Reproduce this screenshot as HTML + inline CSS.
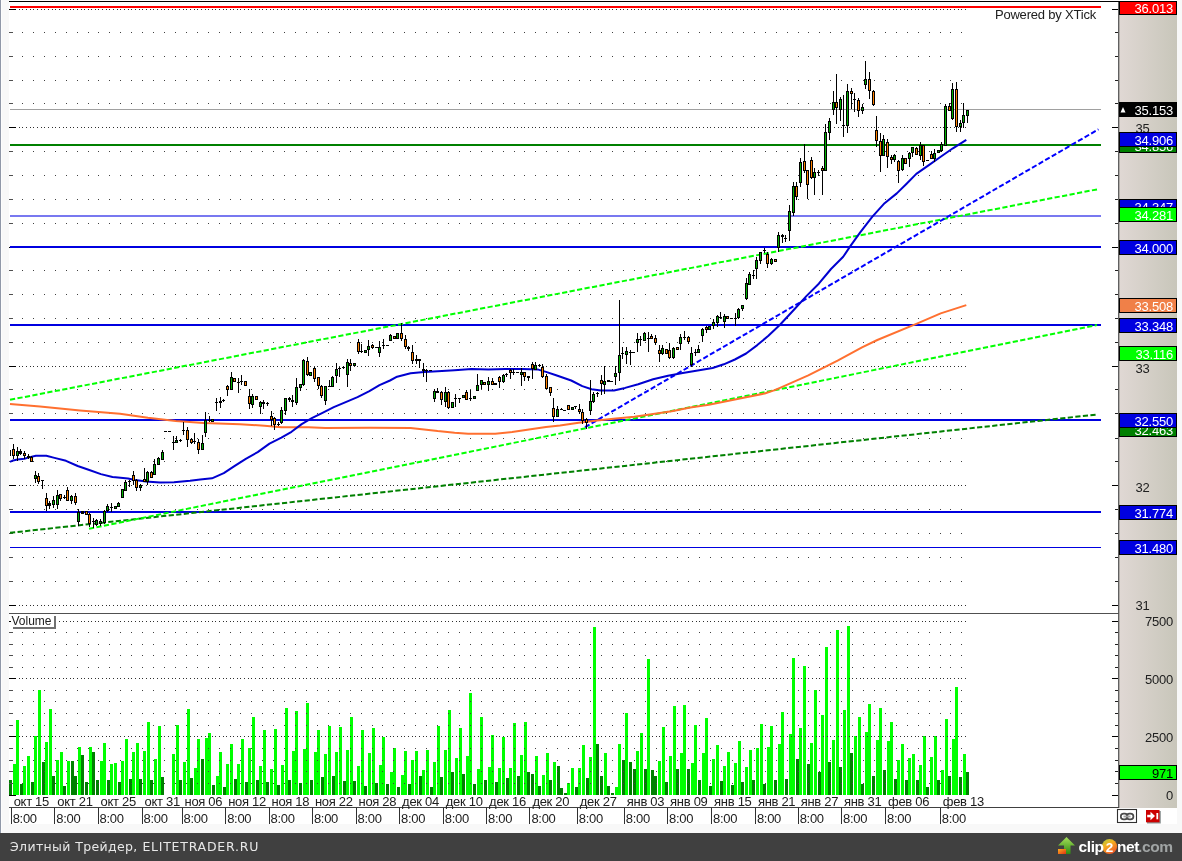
<!DOCTYPE html>
<html><head><meta charset="utf-8"><title>XTick chart</title>
<style>html,body{margin:0;padding:0;background:#f8f8f8;}body{width:1182px;height:861px;overflow:hidden;position:relative;}</style>
</head><body>
<svg width="1182" height="861" viewBox="0 0 1182 861" style="position:absolute;left:0;top:0">
<defs><linearGradient id="ax" x1="0" x2="1" y1="0" y2="0"><stop offset="0" stop-color="#e0d8d4"/><stop offset="1" stop-color="#c8c6ba"/></linearGradient><clipPath id="cp"><rect x="10" y="2" width="1100" height="611"/></clipPath><clipPath id="cv"><rect x="10" y="614" width="1100" height="181"/></clipPath></defs>
<rect x="0" y="0" width="1182" height="861" fill="#f8f8f8"/>
<rect x="0" y="0" width="1" height="833" fill="#9098a8"/>
<rect x="1" y="0" width="1" height="833" fill="#fdfdfd"/>
<rect x="9" y="0" width="1168" height="824" fill="#ffffff"/>
<g shape-rendering="crispEdges">
<rect x="1119" y="1" width="58" height="807" fill="url(#ax)"/>
<rect x="1118" y="1" width="1" height="807" fill="#606060"/>
<rect x="1119" y="1" width="1" height="807" fill="#b0aca8"/>
<rect x="9" y="1" width="1110" height="1" fill="#000"/>
<rect x="9" y="613" width="1110" height="1" fill="#505050"/>
<rect x="9" y="807" width="1110" height="1" fill="#404040"/>
<line x1="11.077" y1="9.5" x2="966" y2="9.5" stroke="#303030" stroke-width="1" stroke-dasharray="1 2.9 1 2.9 1 2.123"/>
<rect x="9" y="9" width="7" height="1" fill="#000"/>
<rect x="1112" y="9" width="6" height="1" fill="#000"/>
<line x1="22" y1="32.5" x2="968" y2="32.5" stroke="#404040" stroke-width="1" stroke-dasharray="1 9.923"/>
<rect x="9" y="32" width="4" height="1" fill="#505050"/>
<rect x="1115" y="32" width="3" height="1" fill="#202020"/>
<line x1="22" y1="56.5" x2="968" y2="56.5" stroke="#404040" stroke-width="1" stroke-dasharray="1 9.923"/>
<rect x="9" y="56" width="4" height="1" fill="#505050"/>
<rect x="1115" y="56" width="3" height="1" fill="#202020"/>
<line x1="22" y1="80.5" x2="968" y2="80.5" stroke="#404040" stroke-width="1" stroke-dasharray="1 9.923"/>
<rect x="9" y="80" width="4" height="1" fill="#505050"/>
<rect x="1115" y="80" width="3" height="1" fill="#202020"/>
<line x1="22" y1="103.5" x2="968" y2="103.5" stroke="#404040" stroke-width="1" stroke-dasharray="1 9.923"/>
<rect x="9" y="103" width="4" height="1" fill="#505050"/>
<rect x="1115" y="103" width="3" height="1" fill="#202020"/>
<line x1="11.077" y1="127.5" x2="966" y2="127.5" stroke="#303030" stroke-width="1" stroke-dasharray="1 2.9 1 2.9 1 2.123"/>
<rect x="9" y="127" width="7" height="1" fill="#000"/>
<rect x="1112" y="127" width="6" height="1" fill="#000"/>
<line x1="22" y1="151.5" x2="968" y2="151.5" stroke="#404040" stroke-width="1" stroke-dasharray="1 9.923"/>
<rect x="9" y="151" width="4" height="1" fill="#505050"/>
<rect x="1115" y="151" width="3" height="1" fill="#202020"/>
<line x1="22" y1="175.5" x2="968" y2="175.5" stroke="#404040" stroke-width="1" stroke-dasharray="1 9.923"/>
<rect x="9" y="175" width="4" height="1" fill="#505050"/>
<rect x="1115" y="175" width="3" height="1" fill="#202020"/>
<line x1="22" y1="199.5" x2="968" y2="199.5" stroke="#404040" stroke-width="1" stroke-dasharray="1 9.923"/>
<rect x="9" y="199" width="4" height="1" fill="#505050"/>
<rect x="1115" y="199" width="3" height="1" fill="#202020"/>
<line x1="22" y1="223.5" x2="968" y2="223.5" stroke="#404040" stroke-width="1" stroke-dasharray="1 9.923"/>
<rect x="9" y="223" width="4" height="1" fill="#505050"/>
<rect x="1115" y="223" width="3" height="1" fill="#202020"/>
<line x1="11.077" y1="247.5" x2="966" y2="247.5" stroke="#303030" stroke-width="1" stroke-dasharray="1 2.9 1 2.9 1 2.123"/>
<rect x="9" y="247" width="7" height="1" fill="#000"/>
<rect x="1112" y="247" width="6" height="1" fill="#000"/>
<line x1="22" y1="270.5" x2="968" y2="270.5" stroke="#404040" stroke-width="1" stroke-dasharray="1 9.923"/>
<rect x="9" y="270" width="4" height="1" fill="#505050"/>
<rect x="1115" y="270" width="3" height="1" fill="#202020"/>
<line x1="22" y1="294.5" x2="968" y2="294.5" stroke="#404040" stroke-width="1" stroke-dasharray="1 9.923"/>
<rect x="9" y="294" width="4" height="1" fill="#505050"/>
<rect x="1115" y="294" width="3" height="1" fill="#202020"/>
<line x1="22" y1="318.5" x2="968" y2="318.5" stroke="#404040" stroke-width="1" stroke-dasharray="1 9.923"/>
<rect x="9" y="318" width="4" height="1" fill="#505050"/>
<rect x="1115" y="318" width="3" height="1" fill="#202020"/>
<line x1="22" y1="342.5" x2="968" y2="342.5" stroke="#404040" stroke-width="1" stroke-dasharray="1 9.923"/>
<rect x="9" y="342" width="4" height="1" fill="#505050"/>
<rect x="1115" y="342" width="3" height="1" fill="#202020"/>
<line x1="11.077" y1="366.5" x2="966" y2="366.5" stroke="#303030" stroke-width="1" stroke-dasharray="1 2.9 1 2.9 1 2.123"/>
<rect x="9" y="366" width="7" height="1" fill="#000"/>
<rect x="1112" y="366" width="6" height="1" fill="#000"/>
<line x1="22" y1="389.5" x2="968" y2="389.5" stroke="#404040" stroke-width="1" stroke-dasharray="1 9.923"/>
<rect x="9" y="389" width="4" height="1" fill="#505050"/>
<rect x="1115" y="389" width="3" height="1" fill="#202020"/>
<line x1="22" y1="413.5" x2="968" y2="413.5" stroke="#404040" stroke-width="1" stroke-dasharray="1 9.923"/>
<rect x="9" y="413" width="4" height="1" fill="#505050"/>
<rect x="1115" y="413" width="3" height="1" fill="#202020"/>
<line x1="22" y1="438.5" x2="968" y2="438.5" stroke="#404040" stroke-width="1" stroke-dasharray="1 9.923"/>
<rect x="9" y="438" width="4" height="1" fill="#505050"/>
<rect x="1115" y="438" width="3" height="1" fill="#202020"/>
<line x1="22" y1="461.5" x2="968" y2="461.5" stroke="#404040" stroke-width="1" stroke-dasharray="1 9.923"/>
<rect x="9" y="461" width="4" height="1" fill="#505050"/>
<rect x="1115" y="461" width="3" height="1" fill="#202020"/>
<line x1="11.077" y1="485.5" x2="966" y2="485.5" stroke="#303030" stroke-width="1" stroke-dasharray="1 2.9 1 2.9 1 2.123"/>
<rect x="9" y="485" width="7" height="1" fill="#000"/>
<rect x="1112" y="485" width="6" height="1" fill="#000"/>
<line x1="22" y1="509.5" x2="968" y2="509.5" stroke="#404040" stroke-width="1" stroke-dasharray="1 9.923"/>
<rect x="9" y="509" width="4" height="1" fill="#505050"/>
<rect x="1115" y="509" width="3" height="1" fill="#202020"/>
<line x1="22" y1="533.5" x2="968" y2="533.5" stroke="#404040" stroke-width="1" stroke-dasharray="1 9.923"/>
<rect x="9" y="533" width="4" height="1" fill="#505050"/>
<rect x="1115" y="533" width="3" height="1" fill="#202020"/>
<line x1="22" y1="557.5" x2="968" y2="557.5" stroke="#404040" stroke-width="1" stroke-dasharray="1 9.923"/>
<rect x="9" y="557" width="4" height="1" fill="#505050"/>
<rect x="1115" y="557" width="3" height="1" fill="#202020"/>
<line x1="22" y1="581.5" x2="968" y2="581.5" stroke="#404040" stroke-width="1" stroke-dasharray="1 9.923"/>
<rect x="9" y="581" width="4" height="1" fill="#505050"/>
<rect x="1115" y="581" width="3" height="1" fill="#202020"/>
<line x1="11.077" y1="605.5" x2="966" y2="605.5" stroke="#303030" stroke-width="1" stroke-dasharray="1 2.9 1 2.9 1 2.123"/>
<rect x="9" y="605" width="7" height="1" fill="#000"/>
<rect x="1112" y="605" width="6" height="1" fill="#000"/>
<rect x="10" y="6" width="1091" height="2" fill="#ff0000"/>
<rect x="10" y="109" width="1091" height="1" fill="#a0a0a0"/>
<rect x="10" y="144" width="1091" height="2" fill="#008000"/>
<rect x="10" y="215" width="1091" height="2" fill="#7878f0"/>
<rect x="10" y="246" width="1091" height="2" fill="#0000e0"/>
<rect x="10" y="324" width="1091" height="2" fill="#0000e0"/>
<rect x="10" y="419" width="1091" height="2" fill="#0000e0"/>
<rect x="10" y="511" width="1091" height="2" fill="#0000e0"/>
<rect x="10" y="547" width="1091" height="1" fill="#0000e0"/>
</g>
<line x1="10" y1="532.8" x2="1097" y2="414.5" stroke="#008000" stroke-width="2" stroke-dasharray="5.2 2.4"/>
<line x1="89" y1="528.7" x2="1097" y2="325" stroke="#00ff00" stroke-width="2" stroke-dasharray="5.2 2.4"/>
<line x1="10" y1="399.8" x2="1097" y2="189.4" stroke="#00ff00" stroke-width="2" stroke-dasharray="5.2 2.4"/>
<line x1="585" y1="427.2" x2="1098.5" y2="129.3" stroke="#0000ff" stroke-width="2" stroke-dasharray="5.2 2.4"/>
<polyline points="10.0,404.0 40.0,406.6 80.0,410.5 120.0,413.7 147.9,417.8 175.7,421.0 203.6,423.1 240.0,424.2 264.5,425.8 281.4,427.2 308.4,427.2 325.4,427.9 370.0,427.8 410.6,428.1 424.1,429.4 437.7,431.1 454.6,432.8 468.1,433.7 495.2,433.7 512.1,432.0 529.0,429.4 546.0,426.9 560.0,425.5 578.6,422.7 597.2,420.5 615.8,418.6 634.4,416.8 653.1,414.0 671.7,411.2 690.3,407.5 708.9,404.7 727.5,401.0 746.1,397.2 764.7,393.5 774.0,390.4 780.0,387.8 808.3,375.4 837.6,360.7 862.0,347.3 877.3,340.0 916.3,323.9 940.7,313.4 966.3,305.1" fill="none" stroke="#ff7030" stroke-width="2" stroke-linejoin="round"/>
<polyline points="10.0,461.8 13.2,460.4 17.4,459.6 24.4,458.8 28.9,457.4 35.9,455.7 46.3,455.7 54.5,457.9 66.0,460.8 77.7,466.0 89.3,470.0 100.9,474.1 112.5,477.0 118.0,477.6 128.0,478.5 135.0,479.9 146.0,481.4 160.0,482.6 174.0,482.2 190.0,480.8 200.2,479.6 212.0,478.3 223.8,473.2 234.0,466.4 245.8,458.8 257.7,452.1 269.5,443.6 281.4,437.7 291.5,431.8 301.7,424.1 311.8,418.2 322.0,413.1 333.8,407.2 345.7,402.1 357.5,397.1 369.4,391.2 379.5,385.2 390.0,380.5 397.1,376.7 410.6,373.3 424.1,371.9 437.7,371.2 454.6,370.2 471.5,368.9 488.4,369.4 505.4,369.0 522.3,368.9 537.5,369.4 546.0,371.9 556.1,375.3 571.2,380.5 582.3,386.1 591.6,389.2 600.9,390.4 614.0,390.4 625.1,387.9 638.2,384.2 653.1,379.2 668.0,375.8 682.8,373.0 697.7,370.6 712.6,368.0 723.8,364.3 734.9,359.5 746.1,353.5 757.3,345.1 768.4,335.8 780.0,324.7 794.4,309.3 806.6,295.9 818.8,283.7 831.0,269.0 843.2,256.8 850.5,245.9 860.2,232.4 872.4,216.6 884.6,203.2 896.8,193.4 906.6,183.7 916.3,173.9 928.5,165.4 940.7,156.8 952.9,148.3 966.3,139.8" fill="none" stroke="#0000d0" stroke-width="2" stroke-linejoin="round"/>
<g shape-rendering="crispEdges" clip-path="url(#cp)">
<rect x="9" y="449" width="1" height="7" fill="#000"/>
<rect x="8" y="450" width="3" height="6" fill="#000"/>
<rect x="9" y="451" width="1" height="4" fill="#ff8000"/>
<rect x="13" y="444" width="1" height="15" fill="#000"/>
<rect x="12" y="449" width="3" height="7" fill="#000"/>
<rect x="13" y="450" width="1" height="5" fill="#ff8000"/>
<rect x="17" y="447" width="1" height="14" fill="#000"/>
<rect x="16" y="451" width="3" height="5" fill="#000"/>
<rect x="17" y="452" width="1" height="3" fill="#00b000"/>
<rect x="20" y="449" width="1" height="6" fill="#000"/>
<rect x="19" y="451" width="3" height="3" fill="#000"/>
<rect x="24" y="451" width="1" height="8" fill="#000"/>
<rect x="23" y="453" width="3" height="3" fill="#000"/>
<rect x="24" y="454" width="1" height="1" fill="#ff8000"/>
<rect x="28" y="454" width="1" height="5" fill="#000"/>
<rect x="27" y="456" width="3" height="2" fill="#000"/>
<rect x="31" y="456" width="1" height="6" fill="#000"/>
<rect x="30" y="457" width="3" height="5" fill="#000"/>
<rect x="31" y="458" width="1" height="3" fill="#ff8000"/>
<rect x="35" y="471" width="1" height="12" fill="#000"/>
<rect x="34" y="475" width="3" height="4" fill="#000"/>
<rect x="35" y="476" width="1" height="2" fill="#00b000"/>
<rect x="38" y="473" width="1" height="11" fill="#000"/>
<rect x="37" y="476" width="3" height="6" fill="#000"/>
<rect x="38" y="477" width="1" height="4" fill="#ff8000"/>
<rect x="42" y="480" width="1" height="9" fill="#000"/>
<rect x="41" y="480" width="3" height="1" fill="#000"/>
<rect x="46" y="493" width="1" height="18" fill="#000"/>
<rect x="45" y="498" width="3" height="8" fill="#000"/>
<rect x="46" y="499" width="1" height="6" fill="#ff8000"/>
<rect x="49" y="501" width="1" height="8" fill="#000"/>
<rect x="48" y="503" width="3" height="3" fill="#000"/>
<rect x="53" y="496" width="1" height="12" fill="#000"/>
<rect x="52" y="500" width="3" height="5" fill="#000"/>
<rect x="53" y="501" width="1" height="3" fill="#00b000"/>
<rect x="57" y="490" width="1" height="19" fill="#000"/>
<rect x="56" y="495" width="3" height="10" fill="#000"/>
<rect x="57" y="496" width="1" height="8" fill="#00b000"/>
<rect x="60" y="494" width="1" height="7" fill="#000"/>
<rect x="59" y="494" width="3" height="5" fill="#000"/>
<rect x="60" y="495" width="1" height="3" fill="#ff8000"/>
<rect x="64" y="495" width="1" height="4" fill="#000"/>
<rect x="63" y="497" width="3" height="1" fill="#000"/>
<rect x="67" y="487" width="1" height="14" fill="#000"/>
<rect x="66" y="490" width="3" height="11" fill="#000"/>
<rect x="67" y="491" width="1" height="9" fill="#ff8000"/>
<rect x="71" y="495" width="1" height="9" fill="#000"/>
<rect x="70" y="496" width="3" height="5" fill="#000"/>
<rect x="71" y="497" width="1" height="3" fill="#00b000"/>
<rect x="75" y="493" width="1" height="12" fill="#000"/>
<rect x="74" y="496" width="3" height="7" fill="#000"/>
<rect x="75" y="497" width="1" height="5" fill="#ff8000"/>
<rect x="78" y="509" width="1" height="17" fill="#000"/>
<rect x="77" y="512" width="3" height="10" fill="#000"/>
<rect x="78" y="513" width="1" height="8" fill="#00b000"/>
<rect x="82" y="511" width="1" height="3" fill="#000"/>
<rect x="81" y="511" width="3" height="3" fill="#000"/>
<rect x="86" y="511" width="1" height="4" fill="#000"/>
<rect x="85" y="511" width="3" height="4" fill="#000"/>
<rect x="86" y="512" width="1" height="2" fill="#ff8000"/>
<rect x="89" y="513" width="1" height="14" fill="#000"/>
<rect x="88" y="514" width="3" height="10" fill="#000"/>
<rect x="89" y="515" width="1" height="8" fill="#ff8000"/>
<rect x="93" y="518" width="1" height="10" fill="#000"/>
<rect x="92" y="521" width="3" height="1" fill="#000"/>
<rect x="96" y="519" width="1" height="7" fill="#000"/>
<rect x="95" y="520" width="3" height="5" fill="#000"/>
<rect x="96" y="521" width="1" height="3" fill="#00b000"/>
<rect x="100" y="519" width="1" height="7" fill="#000"/>
<rect x="99" y="521" width="3" height="3" fill="#000"/>
<rect x="100" y="522" width="1" height="1" fill="#00b000"/>
<rect x="104" y="510" width="1" height="14" fill="#000"/>
<rect x="103" y="511" width="3" height="12" fill="#000"/>
<rect x="104" y="512" width="1" height="10" fill="#00b000"/>
<rect x="107" y="504" width="1" height="8" fill="#000"/>
<rect x="106" y="506" width="3" height="5" fill="#000"/>
<rect x="107" y="507" width="1" height="3" fill="#00b000"/>
<rect x="111" y="503" width="1" height="9" fill="#000"/>
<rect x="110" y="507" width="3" height="1" fill="#000"/>
<rect x="115" y="506" width="1" height="3" fill="#000"/>
<rect x="114" y="506" width="3" height="3" fill="#000"/>
<rect x="115" y="507" width="1" height="1" fill="#00b000"/>
<rect x="118" y="502" width="1" height="5" fill="#000"/>
<rect x="117" y="503" width="3" height="4" fill="#000"/>
<rect x="118" y="504" width="1" height="2" fill="#00b000"/>
<rect x="122" y="489" width="1" height="9" fill="#000"/>
<rect x="121" y="489" width="3" height="9" fill="#000"/>
<rect x="122" y="490" width="1" height="7" fill="#00b000"/>
<rect x="125" y="480" width="1" height="11" fill="#000"/>
<rect x="124" y="482" width="3" height="9" fill="#000"/>
<rect x="125" y="483" width="1" height="7" fill="#00b000"/>
<rect x="129" y="480" width="1" height="7" fill="#000"/>
<rect x="128" y="481" width="3" height="1" fill="#000"/>
<rect x="133" y="471" width="1" height="14" fill="#000"/>
<rect x="132" y="475" width="3" height="6" fill="#000"/>
<rect x="133" y="476" width="1" height="4" fill="#ff8000"/>
<rect x="136" y="479" width="1" height="12" fill="#000"/>
<rect x="135" y="480" width="3" height="8" fill="#000"/>
<rect x="136" y="481" width="1" height="6" fill="#ff8000"/>
<rect x="140" y="484" width="1" height="7" fill="#000"/>
<rect x="139" y="485" width="3" height="3" fill="#000"/>
<rect x="140" y="486" width="1" height="1" fill="#00b000"/>
<rect x="144" y="468" width="1" height="14" fill="#000"/>
<rect x="143" y="479" width="3" height="3" fill="#000"/>
<rect x="144" y="480" width="1" height="1" fill="#ff8000"/>
<rect x="147" y="471" width="1" height="14" fill="#000"/>
<rect x="146" y="472" width="3" height="10" fill="#000"/>
<rect x="147" y="473" width="1" height="8" fill="#00b000"/>
<rect x="151" y="471" width="1" height="7" fill="#000"/>
<rect x="150" y="472" width="3" height="6" fill="#000"/>
<rect x="151" y="473" width="1" height="4" fill="#ff8000"/>
<rect x="154" y="459" width="1" height="16" fill="#000"/>
<rect x="153" y="464" width="3" height="11" fill="#000"/>
<rect x="154" y="465" width="1" height="9" fill="#00b000"/>
<rect x="158" y="457" width="1" height="8" fill="#000"/>
<rect x="157" y="458" width="3" height="7" fill="#000"/>
<rect x="158" y="459" width="1" height="5" fill="#00b000"/>
<rect x="162" y="450" width="1" height="10" fill="#000"/>
<rect x="161" y="452" width="3" height="8" fill="#000"/>
<rect x="162" y="453" width="1" height="6" fill="#00b000"/>
<rect x="164" y="431" width="3" height="1" fill="#000"/>
<rect x="168" y="431" width="3" height="1" fill="#000"/>
<rect x="173" y="436" width="1" height="14" fill="#000"/>
<rect x="172" y="442" width="3" height="1" fill="#000"/>
<rect x="176" y="436" width="1" height="7" fill="#000"/>
<rect x="175" y="440" width="3" height="3" fill="#000"/>
<rect x="176" y="441" width="1" height="1" fill="#00b000"/>
<rect x="180" y="439" width="1" height="3" fill="#000"/>
<rect x="179" y="440" width="3" height="1" fill="#000"/>
<rect x="183" y="422" width="1" height="13" fill="#000"/>
<rect x="182" y="430" width="3" height="1" fill="#000"/>
<rect x="187" y="427" width="1" height="20" fill="#000"/>
<rect x="186" y="430" width="3" height="10" fill="#000"/>
<rect x="187" y="431" width="1" height="8" fill="#ff8000"/>
<rect x="191" y="438" width="1" height="6" fill="#000"/>
<rect x="190" y="439" width="3" height="4" fill="#000"/>
<rect x="191" y="440" width="1" height="2" fill="#ff8000"/>
<rect x="194" y="433" width="1" height="11" fill="#000"/>
<rect x="193" y="441" width="3" height="1" fill="#000"/>
<rect x="198" y="439" width="1" height="15" fill="#000"/>
<rect x="197" y="442" width="3" height="8" fill="#000"/>
<rect x="198" y="443" width="1" height="6" fill="#ff8000"/>
<rect x="202" y="435" width="1" height="15" fill="#000"/>
<rect x="201" y="443" width="3" height="7" fill="#000"/>
<rect x="202" y="444" width="1" height="5" fill="#00b000"/>
<rect x="205" y="412" width="1" height="25" fill="#000"/>
<rect x="204" y="420" width="3" height="13" fill="#000"/>
<rect x="205" y="421" width="1" height="11" fill="#00b000"/>
<rect x="209" y="416" width="1" height="6" fill="#000"/>
<rect x="208" y="420" width="3" height="1" fill="#000"/>
<rect x="212" y="419" width="1" height="3" fill="#000"/>
<rect x="211" y="419" width="3" height="3" fill="#000"/>
<rect x="212" y="420" width="1" height="1" fill="#00b000"/>
<rect x="216" y="398" width="1" height="13" fill="#000"/>
<rect x="215" y="402" width="3" height="1" fill="#000"/>
<rect x="220" y="397" width="1" height="11" fill="#000"/>
<rect x="219" y="401" width="3" height="2" fill="#000"/>
<rect x="223" y="399" width="1" height="3" fill="#000"/>
<rect x="222" y="400" width="3" height="1" fill="#000"/>
<rect x="227" y="385" width="1" height="11" fill="#000"/>
<rect x="226" y="386" width="3" height="4" fill="#000"/>
<rect x="227" y="387" width="1" height="2" fill="#ff8000"/>
<rect x="231" y="372" width="1" height="18" fill="#000"/>
<rect x="230" y="377" width="3" height="13" fill="#000"/>
<rect x="231" y="378" width="1" height="11" fill="#00b000"/>
<rect x="234" y="378" width="1" height="4" fill="#000"/>
<rect x="233" y="378" width="3" height="4" fill="#000"/>
<rect x="234" y="379" width="1" height="2" fill="#ff8000"/>
<rect x="238" y="378" width="1" height="15" fill="#000"/>
<rect x="237" y="382" width="3" height="1" fill="#000"/>
<rect x="241" y="375" width="1" height="10" fill="#000"/>
<rect x="240" y="381" width="3" height="1" fill="#000"/>
<rect x="245" y="381" width="1" height="5" fill="#000"/>
<rect x="244" y="381" width="3" height="5" fill="#000"/>
<rect x="245" y="382" width="1" height="3" fill="#ff8000"/>
<rect x="249" y="389" width="1" height="20" fill="#000"/>
<rect x="248" y="396" width="3" height="8" fill="#000"/>
<rect x="249" y="397" width="1" height="6" fill="#ff8000"/>
<rect x="252" y="394" width="1" height="14" fill="#000"/>
<rect x="251" y="396" width="3" height="9" fill="#000"/>
<rect x="252" y="397" width="1" height="7" fill="#00b000"/>
<rect x="256" y="396" width="1" height="4" fill="#000"/>
<rect x="255" y="396" width="3" height="4" fill="#000"/>
<rect x="256" y="397" width="1" height="2" fill="#ff8000"/>
<rect x="260" y="401" width="1" height="13" fill="#000"/>
<rect x="259" y="402" width="3" height="5" fill="#000"/>
<rect x="260" y="403" width="1" height="3" fill="#00b000"/>
<rect x="263" y="400" width="1" height="9" fill="#000"/>
<rect x="262" y="402" width="3" height="2" fill="#000"/>
<rect x="267" y="402" width="1" height="4" fill="#000"/>
<rect x="266" y="403" width="3" height="1" fill="#000"/>
<rect x="271" y="411" width="1" height="15" fill="#000"/>
<rect x="270" y="416" width="3" height="4" fill="#000"/>
<rect x="271" y="417" width="1" height="2" fill="#ff8000"/>
<rect x="274" y="417" width="1" height="13" fill="#000"/>
<rect x="273" y="418" width="3" height="7" fill="#000"/>
<rect x="274" y="419" width="1" height="5" fill="#ff8000"/>
<rect x="278" y="422" width="1" height="4" fill="#000"/>
<rect x="277" y="424" width="3" height="1" fill="#000"/>
<rect x="281" y="407" width="1" height="17" fill="#000"/>
<rect x="280" y="410" width="3" height="13" fill="#000"/>
<rect x="281" y="411" width="1" height="11" fill="#00b000"/>
<rect x="285" y="398" width="1" height="17" fill="#000"/>
<rect x="284" y="398" width="3" height="13" fill="#000"/>
<rect x="285" y="399" width="1" height="11" fill="#00b000"/>
<rect x="289" y="397" width="1" height="5" fill="#000"/>
<rect x="288" y="398" width="3" height="2" fill="#000"/>
<rect x="292" y="395" width="1" height="12" fill="#000"/>
<rect x="291" y="400" width="3" height="2" fill="#000"/>
<rect x="296" y="378" width="1" height="27" fill="#000"/>
<rect x="295" y="387" width="3" height="16" fill="#000"/>
<rect x="296" y="388" width="1" height="14" fill="#00b000"/>
<rect x="300" y="384" width="1" height="7" fill="#000"/>
<rect x="299" y="384" width="3" height="4" fill="#000"/>
<rect x="300" y="385" width="1" height="2" fill="#00b000"/>
<rect x="303" y="359" width="1" height="27" fill="#000"/>
<rect x="302" y="360" width="3" height="25" fill="#000"/>
<rect x="303" y="361" width="1" height="23" fill="#00b000"/>
<rect x="307" y="357" width="1" height="19" fill="#000"/>
<rect x="306" y="361" width="3" height="14" fill="#000"/>
<rect x="307" y="362" width="1" height="12" fill="#ff8000"/>
<rect x="310" y="372" width="1" height="4" fill="#000"/>
<rect x="309" y="372" width="3" height="4" fill="#000"/>
<rect x="310" y="373" width="1" height="2" fill="#00b000"/>
<rect x="314" y="367" width="1" height="15" fill="#000"/>
<rect x="313" y="368" width="3" height="11" fill="#000"/>
<rect x="314" y="369" width="1" height="9" fill="#ff8000"/>
<rect x="318" y="377" width="1" height="12" fill="#000"/>
<rect x="317" y="377" width="3" height="9" fill="#000"/>
<rect x="318" y="378" width="1" height="7" fill="#ff8000"/>
<rect x="321" y="385" width="1" height="13" fill="#000"/>
<rect x="320" y="386" width="3" height="10" fill="#000"/>
<rect x="321" y="387" width="1" height="8" fill="#ff8000"/>
<rect x="325" y="386" width="1" height="19" fill="#000"/>
<rect x="324" y="386" width="3" height="15" fill="#000"/>
<rect x="325" y="387" width="1" height="13" fill="#00b000"/>
<rect x="329" y="380" width="1" height="7" fill="#000"/>
<rect x="328" y="386" width="3" height="1" fill="#000"/>
<rect x="332" y="376" width="1" height="11" fill="#000"/>
<rect x="331" y="377" width="3" height="10" fill="#000"/>
<rect x="332" y="378" width="1" height="8" fill="#00b000"/>
<rect x="336" y="363" width="1" height="20" fill="#000"/>
<rect x="335" y="369" width="3" height="7" fill="#000"/>
<rect x="336" y="370" width="1" height="5" fill="#00b000"/>
<rect x="339" y="367" width="1" height="10" fill="#000"/>
<rect x="338" y="368" width="3" height="1" fill="#000"/>
<rect x="343" y="366" width="1" height="3" fill="#000"/>
<rect x="342" y="367" width="3" height="1" fill="#000"/>
<rect x="347" y="359" width="1" height="28" fill="#000"/>
<rect x="346" y="362" width="3" height="13" fill="#000"/>
<rect x="347" y="363" width="1" height="11" fill="#00b000"/>
<rect x="350" y="359" width="1" height="12" fill="#000"/>
<rect x="349" y="363" width="3" height="3" fill="#000"/>
<rect x="350" y="364" width="1" height="1" fill="#ff8000"/>
<rect x="354" y="363" width="1" height="3" fill="#000"/>
<rect x="353" y="363" width="3" height="3" fill="#000"/>
<rect x="354" y="364" width="1" height="1" fill="#00b000"/>
<rect x="358" y="339" width="1" height="15" fill="#000"/>
<rect x="357" y="342" width="3" height="10" fill="#000"/>
<rect x="358" y="343" width="1" height="8" fill="#ff8000"/>
<rect x="361" y="344" width="1" height="9" fill="#000"/>
<rect x="360" y="351" width="3" height="1" fill="#000"/>
<rect x="365" y="350" width="1" height="3" fill="#000"/>
<rect x="364" y="350" width="3" height="3" fill="#000"/>
<rect x="365" y="351" width="1" height="1" fill="#00b000"/>
<rect x="368" y="340" width="1" height="16" fill="#000"/>
<rect x="367" y="346" width="3" height="4" fill="#000"/>
<rect x="368" y="347" width="1" height="2" fill="#00b000"/>
<rect x="372" y="344" width="1" height="5" fill="#000"/>
<rect x="371" y="345" width="3" height="3" fill="#000"/>
<rect x="372" y="346" width="1" height="1" fill="#ff8000"/>
<rect x="375" y="347" width="3" height="1" fill="#000"/>
<rect x="379" y="341" width="1" height="16" fill="#000"/>
<rect x="378" y="347" width="3" height="6" fill="#000"/>
<rect x="379" y="348" width="1" height="4" fill="#00b000"/>
<rect x="383" y="339" width="1" height="10" fill="#000"/>
<rect x="382" y="345" width="3" height="1" fill="#000"/>
<rect x="386" y="345" width="3" height="1" fill="#000"/>
<rect x="390" y="334" width="1" height="7" fill="#000"/>
<rect x="389" y="335" width="3" height="6" fill="#000"/>
<rect x="390" y="336" width="1" height="4" fill="#00b000"/>
<rect x="394" y="336" width="1" height="3" fill="#000"/>
<rect x="393" y="336" width="3" height="3" fill="#000"/>
<rect x="394" y="337" width="1" height="1" fill="#ff8000"/>
<rect x="397" y="333" width="1" height="6" fill="#000"/>
<rect x="396" y="333" width="3" height="6" fill="#000"/>
<rect x="397" y="334" width="1" height="4" fill="#00b000"/>
<rect x="401" y="323" width="1" height="18" fill="#000"/>
<rect x="400" y="333" width="3" height="6" fill="#000"/>
<rect x="401" y="334" width="1" height="4" fill="#ff8000"/>
<rect x="405" y="335" width="1" height="14" fill="#000"/>
<rect x="404" y="339" width="3" height="8" fill="#000"/>
<rect x="405" y="340" width="1" height="6" fill="#ff8000"/>
<rect x="408" y="346" width="1" height="5" fill="#000"/>
<rect x="407" y="347" width="3" height="2" fill="#000"/>
<rect x="412" y="345" width="1" height="19" fill="#000"/>
<rect x="411" y="352" width="3" height="9" fill="#000"/>
<rect x="412" y="353" width="1" height="7" fill="#ff8000"/>
<rect x="416" y="355" width="1" height="9" fill="#000"/>
<rect x="415" y="359" width="3" height="2" fill="#000"/>
<rect x="419" y="359" width="1" height="9" fill="#000"/>
<rect x="418" y="359" width="3" height="2" fill="#000"/>
<rect x="423" y="363" width="1" height="14" fill="#000"/>
<rect x="422" y="369" width="3" height="2" fill="#000"/>
<rect x="426" y="369" width="1" height="13" fill="#000"/>
<rect x="425" y="370" width="3" height="1" fill="#000"/>
<rect x="429" y="370" width="3" height="1" fill="#000"/>
<rect x="434" y="389" width="1" height="13" fill="#000"/>
<rect x="433" y="391" width="3" height="8" fill="#000"/>
<rect x="434" y="392" width="1" height="6" fill="#00b000"/>
<rect x="437" y="388" width="1" height="5" fill="#000"/>
<rect x="436" y="391" width="3" height="2" fill="#000"/>
<rect x="441" y="391" width="1" height="14" fill="#000"/>
<rect x="440" y="392" width="3" height="8" fill="#000"/>
<rect x="441" y="393" width="1" height="6" fill="#ff8000"/>
<rect x="445" y="387" width="1" height="20" fill="#000"/>
<rect x="444" y="392" width="3" height="10" fill="#000"/>
<rect x="445" y="393" width="1" height="8" fill="#00b000"/>
<rect x="448" y="391" width="1" height="18" fill="#000"/>
<rect x="447" y="392" width="3" height="16" fill="#000"/>
<rect x="448" y="393" width="1" height="14" fill="#ff8000"/>
<rect x="452" y="402" width="1" height="6" fill="#000"/>
<rect x="451" y="402" width="3" height="6" fill="#000"/>
<rect x="452" y="403" width="1" height="4" fill="#00b000"/>
<rect x="455" y="394" width="1" height="13" fill="#000"/>
<rect x="454" y="398" width="3" height="1" fill="#000"/>
<rect x="459" y="398" width="1" height="5" fill="#000"/>
<rect x="458" y="398" width="3" height="1" fill="#000"/>
<rect x="463" y="395" width="1" height="3" fill="#000"/>
<rect x="462" y="395" width="3" height="3" fill="#000"/>
<rect x="463" y="396" width="1" height="1" fill="#00b000"/>
<rect x="466" y="390" width="1" height="10" fill="#000"/>
<rect x="465" y="392" width="3" height="8" fill="#000"/>
<rect x="466" y="393" width="1" height="6" fill="#ff8000"/>
<rect x="470" y="390" width="1" height="11" fill="#000"/>
<rect x="469" y="398" width="3" height="1" fill="#000"/>
<rect x="474" y="396" width="1" height="3" fill="#000"/>
<rect x="473" y="396" width="3" height="3" fill="#000"/>
<rect x="474" y="397" width="1" height="1" fill="#00b000"/>
<rect x="477" y="374" width="1" height="17" fill="#000"/>
<rect x="476" y="385" width="3" height="6" fill="#000"/>
<rect x="477" y="386" width="1" height="4" fill="#00b000"/>
<rect x="481" y="380" width="1" height="9" fill="#000"/>
<rect x="480" y="380" width="3" height="5" fill="#000"/>
<rect x="481" y="381" width="1" height="3" fill="#00b000"/>
<rect x="484" y="382" width="1" height="3" fill="#000"/>
<rect x="483" y="382" width="3" height="3" fill="#000"/>
<rect x="484" y="383" width="1" height="1" fill="#ff8000"/>
<rect x="488" y="377" width="1" height="14" fill="#000"/>
<rect x="487" y="381" width="3" height="4" fill="#000"/>
<rect x="488" y="382" width="1" height="2" fill="#00b000"/>
<rect x="492" y="378" width="1" height="7" fill="#000"/>
<rect x="491" y="381" width="3" height="4" fill="#000"/>
<rect x="492" y="382" width="1" height="2" fill="#ff8000"/>
<rect x="495" y="383" width="1" height="2" fill="#000"/>
<rect x="494" y="383" width="3" height="2" fill="#000"/>
<rect x="499" y="376" width="1" height="12" fill="#000"/>
<rect x="498" y="377" width="3" height="5" fill="#000"/>
<rect x="499" y="378" width="1" height="3" fill="#ff8000"/>
<rect x="503" y="374" width="1" height="9" fill="#000"/>
<rect x="502" y="375" width="3" height="7" fill="#000"/>
<rect x="503" y="376" width="1" height="5" fill="#00b000"/>
<rect x="506" y="373" width="1" height="4" fill="#000"/>
<rect x="505" y="374" width="3" height="1" fill="#000"/>
<rect x="510" y="369" width="1" height="10" fill="#000"/>
<rect x="509" y="370" width="3" height="3" fill="#000"/>
<rect x="510" y="371" width="1" height="1" fill="#ff8000"/>
<rect x="513" y="369" width="1" height="6" fill="#000"/>
<rect x="512" y="372" width="3" height="1" fill="#000"/>
<rect x="516" y="372" width="3" height="1" fill="#000"/>
<rect x="521" y="368" width="1" height="18" fill="#000"/>
<rect x="520" y="372" width="3" height="3" fill="#000"/>
<rect x="521" y="373" width="1" height="1" fill="#00b000"/>
<rect x="524" y="372" width="1" height="9" fill="#000"/>
<rect x="523" y="372" width="3" height="5" fill="#000"/>
<rect x="524" y="373" width="1" height="3" fill="#ff8000"/>
<rect x="528" y="376" width="1" height="5" fill="#000"/>
<rect x="527" y="376" width="3" height="2" fill="#000"/>
<rect x="532" y="362" width="1" height="17" fill="#000"/>
<rect x="531" y="364" width="3" height="5" fill="#000"/>
<rect x="532" y="365" width="1" height="3" fill="#ff8000"/>
<rect x="535" y="362" width="1" height="8" fill="#000"/>
<rect x="534" y="365" width="3" height="5" fill="#000"/>
<rect x="535" y="366" width="1" height="3" fill="#00b000"/>
<rect x="539" y="364" width="1" height="3" fill="#000"/>
<rect x="538" y="365" width="3" height="1" fill="#000"/>
<rect x="542" y="364" width="1" height="14" fill="#000"/>
<rect x="541" y="367" width="3" height="10" fill="#000"/>
<rect x="542" y="368" width="1" height="8" fill="#ff8000"/>
<rect x="546" y="374" width="1" height="15" fill="#000"/>
<rect x="545" y="376" width="3" height="13" fill="#000"/>
<rect x="546" y="377" width="1" height="11" fill="#ff8000"/>
<rect x="550" y="387" width="1" height="9" fill="#000"/>
<rect x="549" y="387" width="3" height="6" fill="#000"/>
<rect x="550" y="388" width="1" height="4" fill="#ff8000"/>
<rect x="553" y="398" width="1" height="24" fill="#000"/>
<rect x="552" y="408" width="3" height="9" fill="#000"/>
<rect x="553" y="409" width="1" height="7" fill="#ff8000"/>
<rect x="557" y="406" width="1" height="11" fill="#000"/>
<rect x="556" y="409" width="3" height="8" fill="#000"/>
<rect x="557" y="410" width="1" height="6" fill="#00b000"/>
<rect x="561" y="408" width="1" height="2" fill="#000"/>
<rect x="560" y="409" width="3" height="1" fill="#000"/>
<rect x="563" y="410" width="3" height="1" fill="#000"/>
<rect x="568" y="405" width="1" height="5" fill="#000"/>
<rect x="567" y="405" width="3" height="5" fill="#000"/>
<rect x="568" y="406" width="1" height="3" fill="#ff8000"/>
<rect x="572" y="407" width="1" height="3" fill="#000"/>
<rect x="571" y="407" width="3" height="3" fill="#000"/>
<rect x="572" y="408" width="1" height="1" fill="#00b000"/>
<rect x="575" y="406" width="1" height="3" fill="#000"/>
<rect x="574" y="406" width="3" height="1" fill="#000"/>
<rect x="579" y="404" width="1" height="10" fill="#000"/>
<rect x="578" y="409" width="3" height="3" fill="#000"/>
<rect x="579" y="410" width="1" height="1" fill="#ff8000"/>
<rect x="582" y="409" width="1" height="15" fill="#000"/>
<rect x="581" y="412" width="3" height="9" fill="#000"/>
<rect x="582" y="413" width="1" height="7" fill="#ff8000"/>
<rect x="586" y="418" width="1" height="11" fill="#000"/>
<rect x="585" y="419" width="3" height="4" fill="#000"/>
<rect x="586" y="420" width="1" height="2" fill="#ff8000"/>
<rect x="590" y="380" width="1" height="35" fill="#000"/>
<rect x="589" y="401" width="3" height="10" fill="#000"/>
<rect x="590" y="402" width="1" height="8" fill="#00b000"/>
<rect x="593" y="392" width="1" height="11" fill="#000"/>
<rect x="592" y="394" width="3" height="8" fill="#000"/>
<rect x="593" y="395" width="1" height="6" fill="#00b000"/>
<rect x="597" y="392" width="1" height="5" fill="#000"/>
<rect x="596" y="393" width="3" height="1" fill="#000"/>
<rect x="601" y="375" width="1" height="20" fill="#000"/>
<rect x="600" y="380" width="3" height="4" fill="#000"/>
<rect x="601" y="381" width="1" height="2" fill="#ff8000"/>
<rect x="604" y="366" width="1" height="28" fill="#000"/>
<rect x="603" y="381" width="3" height="4" fill="#000"/>
<rect x="604" y="382" width="1" height="2" fill="#00b000"/>
<rect x="608" y="380" width="1" height="2" fill="#000"/>
<rect x="607" y="380" width="3" height="2" fill="#000"/>
<rect x="610" y="381" width="3" height="1" fill="#000"/>
<rect x="615" y="366" width="1" height="19" fill="#000"/>
<rect x="614" y="373" width="3" height="4" fill="#000"/>
<rect x="615" y="374" width="1" height="2" fill="#00b000"/>
<rect x="619" y="300" width="1" height="81" fill="#000"/>
<rect x="618" y="355" width="3" height="18" fill="#000"/>
<rect x="619" y="356" width="1" height="16" fill="#00b000"/>
<rect x="622" y="347" width="1" height="12" fill="#000"/>
<rect x="621" y="353" width="3" height="1" fill="#000"/>
<rect x="626" y="347" width="1" height="17" fill="#000"/>
<rect x="625" y="351" width="3" height="4" fill="#000"/>
<rect x="626" y="352" width="1" height="2" fill="#00b000"/>
<rect x="630" y="350" width="1" height="15" fill="#000"/>
<rect x="629" y="352" width="3" height="1" fill="#000"/>
<rect x="632" y="352" width="3" height="1" fill="#000"/>
<rect x="637" y="333" width="1" height="19" fill="#000"/>
<rect x="636" y="339" width="3" height="4" fill="#000"/>
<rect x="637" y="340" width="1" height="2" fill="#00b000"/>
<rect x="640" y="336" width="1" height="10" fill="#000"/>
<rect x="639" y="339" width="3" height="1" fill="#000"/>
<rect x="644" y="332" width="1" height="9" fill="#000"/>
<rect x="643" y="333" width="3" height="8" fill="#000"/>
<rect x="644" y="334" width="1" height="6" fill="#00b000"/>
<rect x="648" y="332" width="1" height="20" fill="#000"/>
<rect x="647" y="338" width="3" height="1" fill="#000"/>
<rect x="651" y="334" width="1" height="5" fill="#000"/>
<rect x="650" y="336" width="3" height="3" fill="#000"/>
<rect x="651" y="337" width="1" height="1" fill="#ff8000"/>
<rect x="655" y="335" width="1" height="10" fill="#000"/>
<rect x="654" y="338" width="3" height="5" fill="#000"/>
<rect x="655" y="339" width="1" height="3" fill="#ff8000"/>
<rect x="659" y="345" width="1" height="17" fill="#000"/>
<rect x="658" y="350" width="3" height="4" fill="#000"/>
<rect x="659" y="351" width="1" height="2" fill="#ff8000"/>
<rect x="662" y="345" width="1" height="10" fill="#000"/>
<rect x="661" y="348" width="3" height="6" fill="#000"/>
<rect x="662" y="349" width="1" height="4" fill="#00b000"/>
<rect x="666" y="349" width="1" height="5" fill="#000"/>
<rect x="665" y="349" width="3" height="5" fill="#000"/>
<rect x="666" y="350" width="1" height="3" fill="#ff8000"/>
<rect x="669" y="343" width="1" height="16" fill="#000"/>
<rect x="668" y="350" width="3" height="8" fill="#000"/>
<rect x="669" y="351" width="1" height="6" fill="#ff8000"/>
<rect x="673" y="347" width="1" height="12" fill="#000"/>
<rect x="672" y="348" width="3" height="10" fill="#000"/>
<rect x="673" y="349" width="1" height="8" fill="#00b000"/>
<rect x="677" y="347" width="1" height="3" fill="#000"/>
<rect x="676" y="347" width="3" height="3" fill="#000"/>
<rect x="677" y="348" width="1" height="1" fill="#ff8000"/>
<rect x="680" y="334" width="1" height="16" fill="#000"/>
<rect x="679" y="337" width="3" height="7" fill="#000"/>
<rect x="680" y="338" width="1" height="5" fill="#00b000"/>
<rect x="684" y="331" width="1" height="9" fill="#000"/>
<rect x="683" y="337" width="3" height="1" fill="#000"/>
<rect x="688" y="336" width="1" height="8" fill="#000"/>
<rect x="687" y="337" width="3" height="5" fill="#000"/>
<rect x="688" y="338" width="1" height="3" fill="#ff8000"/>
<rect x="691" y="347" width="1" height="20" fill="#000"/>
<rect x="690" y="353" width="3" height="12" fill="#000"/>
<rect x="691" y="354" width="1" height="10" fill="#00b000"/>
<rect x="695" y="349" width="1" height="7" fill="#000"/>
<rect x="694" y="352" width="3" height="1" fill="#000"/>
<rect x="698" y="345" width="1" height="8" fill="#000"/>
<rect x="697" y="349" width="3" height="4" fill="#000"/>
<rect x="698" y="350" width="1" height="2" fill="#00b000"/>
<rect x="702" y="328" width="1" height="14" fill="#000"/>
<rect x="701" y="329" width="3" height="7" fill="#000"/>
<rect x="702" y="330" width="1" height="5" fill="#00b000"/>
<rect x="706" y="326" width="1" height="7" fill="#000"/>
<rect x="705" y="327" width="3" height="3" fill="#000"/>
<rect x="706" y="328" width="1" height="1" fill="#ff8000"/>
<rect x="709" y="326" width="1" height="4" fill="#000"/>
<rect x="708" y="326" width="3" height="4" fill="#000"/>
<rect x="709" y="327" width="1" height="2" fill="#00b000"/>
<rect x="713" y="319" width="1" height="10" fill="#000"/>
<rect x="712" y="322" width="3" height="4" fill="#000"/>
<rect x="713" y="323" width="1" height="2" fill="#00b000"/>
<rect x="717" y="315" width="1" height="12" fill="#000"/>
<rect x="716" y="316" width="3" height="7" fill="#000"/>
<rect x="717" y="317" width="1" height="5" fill="#00b000"/>
<rect x="720" y="312" width="1" height="7" fill="#000"/>
<rect x="719" y="317" width="3" height="1" fill="#000"/>
<rect x="724" y="314" width="1" height="14" fill="#000"/>
<rect x="723" y="316" width="3" height="6" fill="#000"/>
<rect x="724" y="317" width="1" height="4" fill="#00b000"/>
<rect x="727" y="316" width="1" height="3" fill="#000"/>
<rect x="726" y="316" width="3" height="3" fill="#000"/>
<rect x="727" y="317" width="1" height="1" fill="#ff8000"/>
<rect x="730" y="318" width="3" height="1" fill="#000"/>
<rect x="735" y="313" width="1" height="13" fill="#000"/>
<rect x="734" y="318" width="3" height="1" fill="#000"/>
<rect x="738" y="308" width="1" height="11" fill="#000"/>
<rect x="737" y="309" width="3" height="9" fill="#000"/>
<rect x="738" y="310" width="1" height="7" fill="#00b000"/>
<rect x="742" y="305" width="1" height="6" fill="#000"/>
<rect x="741" y="305" width="3" height="4" fill="#000"/>
<rect x="742" y="306" width="1" height="2" fill="#00b000"/>
<rect x="746" y="278" width="1" height="22" fill="#000"/>
<rect x="745" y="283" width="3" height="16" fill="#000"/>
<rect x="746" y="284" width="1" height="14" fill="#00b000"/>
<rect x="749" y="272" width="1" height="13" fill="#000"/>
<rect x="748" y="274" width="3" height="11" fill="#000"/>
<rect x="749" y="275" width="1" height="9" fill="#00b000"/>
<rect x="753" y="270" width="1" height="9" fill="#000"/>
<rect x="752" y="275" width="3" height="1" fill="#000"/>
<rect x="756" y="257" width="1" height="22" fill="#000"/>
<rect x="755" y="260" width="3" height="9" fill="#000"/>
<rect x="756" y="261" width="1" height="7" fill="#00b000"/>
<rect x="760" y="252" width="1" height="12" fill="#000"/>
<rect x="759" y="252" width="3" height="9" fill="#000"/>
<rect x="760" y="253" width="1" height="7" fill="#00b000"/>
<rect x="764" y="248" width="1" height="5" fill="#000"/>
<rect x="763" y="250" width="3" height="1" fill="#000"/>
<rect x="767" y="252" width="1" height="16" fill="#000"/>
<rect x="766" y="254" width="3" height="10" fill="#000"/>
<rect x="767" y="255" width="1" height="8" fill="#ff8000"/>
<rect x="771" y="258" width="1" height="7" fill="#000"/>
<rect x="770" y="259" width="3" height="5" fill="#000"/>
<rect x="771" y="260" width="1" height="3" fill="#00b000"/>
<rect x="775" y="259" width="1" height="3" fill="#000"/>
<rect x="774" y="259" width="3" height="3" fill="#000"/>
<rect x="775" y="260" width="1" height="1" fill="#ff8000"/>
<rect x="778" y="232" width="1" height="20" fill="#000"/>
<rect x="777" y="235" width="3" height="13" fill="#000"/>
<rect x="778" y="236" width="1" height="11" fill="#00b000"/>
<rect x="782" y="234" width="1" height="9" fill="#000"/>
<rect x="781" y="235" width="3" height="2" fill="#000"/>
<rect x="785" y="235" width="1" height="7" fill="#000"/>
<rect x="784" y="238" width="3" height="1" fill="#000"/>
<rect x="789" y="205" width="1" height="36" fill="#000"/>
<rect x="788" y="211" width="3" height="20" fill="#000"/>
<rect x="789" y="212" width="1" height="18" fill="#00b000"/>
<rect x="793" y="182" width="1" height="34" fill="#000"/>
<rect x="792" y="186" width="3" height="27" fill="#000"/>
<rect x="793" y="187" width="1" height="25" fill="#00b000"/>
<rect x="796" y="182" width="1" height="18" fill="#000"/>
<rect x="795" y="186" width="3" height="11" fill="#000"/>
<rect x="796" y="187" width="1" height="9" fill="#ff8000"/>
<rect x="800" y="158" width="1" height="29" fill="#000"/>
<rect x="799" y="162" width="3" height="21" fill="#000"/>
<rect x="800" y="163" width="1" height="19" fill="#00b000"/>
<rect x="804" y="144" width="1" height="29" fill="#000"/>
<rect x="803" y="161" width="3" height="10" fill="#000"/>
<rect x="804" y="162" width="1" height="8" fill="#ff8000"/>
<rect x="807" y="170" width="1" height="29" fill="#000"/>
<rect x="806" y="170" width="3" height="15" fill="#000"/>
<rect x="807" y="171" width="1" height="13" fill="#ff8000"/>
<rect x="811" y="157" width="1" height="22" fill="#000"/>
<rect x="810" y="160" width="3" height="18" fill="#000"/>
<rect x="811" y="161" width="1" height="16" fill="#ff8000"/>
<rect x="814" y="168" width="1" height="27" fill="#000"/>
<rect x="813" y="172" width="3" height="6" fill="#000"/>
<rect x="814" y="173" width="1" height="4" fill="#00b000"/>
<rect x="818" y="170" width="1" height="6" fill="#000"/>
<rect x="817" y="172" width="3" height="1" fill="#000"/>
<rect x="822" y="166" width="1" height="29" fill="#000"/>
<rect x="821" y="168" width="3" height="3" fill="#000"/>
<rect x="822" y="169" width="1" height="1" fill="#ff8000"/>
<rect x="825" y="124" width="1" height="47" fill="#000"/>
<rect x="824" y="132" width="3" height="39" fill="#000"/>
<rect x="825" y="133" width="1" height="37" fill="#00b000"/>
<rect x="829" y="118" width="1" height="22" fill="#000"/>
<rect x="828" y="121" width="3" height="12" fill="#000"/>
<rect x="829" y="122" width="1" height="10" fill="#00b000"/>
<rect x="833" y="91" width="1" height="24" fill="#000"/>
<rect x="832" y="102" width="3" height="8" fill="#000"/>
<rect x="833" y="103" width="1" height="6" fill="#00b000"/>
<rect x="836" y="74" width="1" height="50" fill="#000"/>
<rect x="835" y="102" width="3" height="6" fill="#000"/>
<rect x="836" y="103" width="1" height="4" fill="#ff8000"/>
<rect x="840" y="97" width="1" height="24" fill="#000"/>
<rect x="839" y="99" width="3" height="11" fill="#000"/>
<rect x="840" y="100" width="1" height="9" fill="#00b000"/>
<rect x="843" y="95" width="1" height="42" fill="#000"/>
<rect x="842" y="125" width="3" height="1" fill="#000"/>
<rect x="847" y="84" width="1" height="49" fill="#000"/>
<rect x="846" y="91" width="3" height="35" fill="#000"/>
<rect x="847" y="92" width="1" height="33" fill="#00b000"/>
<rect x="851" y="88" width="1" height="21" fill="#000"/>
<rect x="850" y="91" width="3" height="3" fill="#000"/>
<rect x="851" y="92" width="1" height="1" fill="#ff8000"/>
<rect x="854" y="93" width="1" height="19" fill="#000"/>
<rect x="853" y="99" width="3" height="1" fill="#000"/>
<rect x="858" y="98" width="1" height="19" fill="#000"/>
<rect x="857" y="100" width="3" height="11" fill="#000"/>
<rect x="858" y="101" width="1" height="9" fill="#ff8000"/>
<rect x="862" y="104" width="1" height="10" fill="#000"/>
<rect x="861" y="107" width="3" height="4" fill="#000"/>
<rect x="862" y="108" width="1" height="2" fill="#00b000"/>
<rect x="865" y="61" width="1" height="28" fill="#000"/>
<rect x="864" y="79" width="3" height="6" fill="#000"/>
<rect x="865" y="80" width="1" height="4" fill="#00b000"/>
<rect x="869" y="72" width="1" height="27" fill="#000"/>
<rect x="868" y="79" width="3" height="12" fill="#000"/>
<rect x="869" y="80" width="1" height="10" fill="#ff8000"/>
<rect x="873" y="90" width="1" height="16" fill="#000"/>
<rect x="872" y="91" width="3" height="14" fill="#000"/>
<rect x="873" y="92" width="1" height="12" fill="#ff8000"/>
<rect x="876" y="116" width="1" height="31" fill="#000"/>
<rect x="875" y="130" width="3" height="11" fill="#000"/>
<rect x="876" y="131" width="1" height="9" fill="#ff8000"/>
<rect x="880" y="133" width="1" height="39" fill="#000"/>
<rect x="879" y="141" width="3" height="15" fill="#000"/>
<rect x="880" y="142" width="1" height="13" fill="#ff8000"/>
<rect x="883" y="135" width="1" height="21" fill="#000"/>
<rect x="882" y="139" width="3" height="17" fill="#000"/>
<rect x="883" y="140" width="1" height="15" fill="#00b000"/>
<rect x="887" y="139" width="1" height="29" fill="#000"/>
<rect x="886" y="142" width="3" height="15" fill="#000"/>
<rect x="887" y="143" width="1" height="13" fill="#ff8000"/>
<rect x="891" y="155" width="1" height="9" fill="#000"/>
<rect x="890" y="157" width="3" height="3" fill="#000"/>
<rect x="891" y="158" width="1" height="1" fill="#ff8000"/>
<rect x="894" y="154" width="1" height="8" fill="#000"/>
<rect x="893" y="155" width="3" height="5" fill="#000"/>
<rect x="894" y="156" width="1" height="3" fill="#00b000"/>
<rect x="898" y="160" width="1" height="23" fill="#000"/>
<rect x="897" y="161" width="3" height="10" fill="#000"/>
<rect x="898" y="162" width="1" height="8" fill="#ff8000"/>
<rect x="902" y="155" width="1" height="16" fill="#000"/>
<rect x="901" y="158" width="3" height="12" fill="#000"/>
<rect x="902" y="159" width="1" height="10" fill="#00b000"/>
<rect x="905" y="158" width="1" height="6" fill="#000"/>
<rect x="904" y="158" width="3" height="6" fill="#000"/>
<rect x="905" y="159" width="1" height="4" fill="#ff8000"/>
<rect x="909" y="152" width="1" height="15" fill="#000"/>
<rect x="908" y="153" width="3" height="6" fill="#000"/>
<rect x="909" y="154" width="1" height="4" fill="#00b000"/>
<rect x="912" y="147" width="1" height="10" fill="#000"/>
<rect x="911" y="147" width="3" height="6" fill="#000"/>
<rect x="912" y="148" width="1" height="4" fill="#00b000"/>
<rect x="916" y="147" width="1" height="8" fill="#000"/>
<rect x="915" y="148" width="3" height="7" fill="#000"/>
<rect x="916" y="149" width="1" height="5" fill="#ff8000"/>
<rect x="920" y="142" width="1" height="18" fill="#000"/>
<rect x="919" y="145" width="3" height="11" fill="#000"/>
<rect x="920" y="146" width="1" height="9" fill="#00b000"/>
<rect x="923" y="145" width="1" height="21" fill="#000"/>
<rect x="922" y="145" width="3" height="17" fill="#000"/>
<rect x="923" y="146" width="1" height="15" fill="#ff8000"/>
<rect x="926" y="160" width="3" height="1" fill="#000"/>
<rect x="931" y="151" width="1" height="8" fill="#000"/>
<rect x="930" y="154" width="3" height="5" fill="#000"/>
<rect x="931" y="155" width="1" height="3" fill="#ff8000"/>
<rect x="934" y="149" width="1" height="13" fill="#000"/>
<rect x="933" y="153" width="3" height="6" fill="#000"/>
<rect x="934" y="154" width="1" height="4" fill="#00b000"/>
<rect x="938" y="150" width="1" height="3" fill="#000"/>
<rect x="937" y="150" width="3" height="3" fill="#000"/>
<rect x="938" y="151" width="1" height="1" fill="#00b000"/>
<rect x="941" y="142" width="1" height="10" fill="#000"/>
<rect x="940" y="144" width="3" height="7" fill="#000"/>
<rect x="941" y="145" width="1" height="5" fill="#00b000"/>
<rect x="945" y="104" width="1" height="42" fill="#000"/>
<rect x="944" y="106" width="3" height="40" fill="#000"/>
<rect x="945" y="107" width="1" height="38" fill="#00b000"/>
<rect x="949" y="103" width="1" height="8" fill="#000"/>
<rect x="948" y="106" width="3" height="5" fill="#000"/>
<rect x="949" y="107" width="1" height="3" fill="#ff8000"/>
<rect x="952" y="83" width="1" height="37" fill="#000"/>
<rect x="951" y="89" width="3" height="30" fill="#000"/>
<rect x="952" y="90" width="1" height="28" fill="#00b000"/>
<rect x="956" y="82" width="1" height="50" fill="#000"/>
<rect x="955" y="89" width="3" height="38" fill="#000"/>
<rect x="956" y="90" width="1" height="36" fill="#ff8000"/>
<rect x="960" y="120" width="1" height="12" fill="#000"/>
<rect x="959" y="123" width="3" height="4" fill="#000"/>
<rect x="960" y="124" width="1" height="2" fill="#00b000"/>
<rect x="963" y="103" width="1" height="25" fill="#000"/>
<rect x="962" y="115" width="3" height="8" fill="#000"/>
<rect x="963" y="116" width="1" height="6" fill="#00b000"/>
<rect x="967" y="110" width="1" height="13" fill="#000"/>
<rect x="966" y="110" width="3" height="6" fill="#000"/>
<rect x="967" y="111" width="1" height="4" fill="#00b000"/>
</g>
<g shape-rendering="crispEdges">
<rect x="9" y="780" width="3" height="15" fill="#008000"/>
<rect x="13" y="764" width="3" height="31" fill="#00ff00"/>
<rect x="16" y="720" width="3" height="75" fill="#00ff00"/>
<rect x="20" y="784" width="3" height="11" fill="#008000"/>
<rect x="23" y="766" width="3" height="29" fill="#00ff00"/>
<rect x="27" y="756" width="3" height="39" fill="#00ff00"/>
<rect x="31" y="782" width="3" height="13" fill="#008000"/>
<rect x="34" y="736" width="3" height="59" fill="#00ff00"/>
<rect x="38" y="690" width="3" height="105" fill="#00ff00"/>
<rect x="42" y="762" width="3" height="33" fill="#008000"/>
<rect x="45" y="742" width="3" height="53" fill="#00ff00"/>
<rect x="49" y="709" width="3" height="86" fill="#00ff00"/>
<rect x="52" y="776" width="3" height="19" fill="#008000"/>
<rect x="56" y="760" width="3" height="35" fill="#00ff00"/>
<rect x="60" y="752" width="3" height="43" fill="#00ff00"/>
<rect x="63" y="786" width="3" height="9" fill="#008000"/>
<rect x="67" y="761" width="3" height="34" fill="#00ff00"/>
<rect x="71" y="761" width="3" height="34" fill="#008000"/>
<rect x="74" y="776" width="3" height="19" fill="#008000"/>
<rect x="78" y="747" width="3" height="48" fill="#00ff00"/>
<rect x="81" y="755" width="3" height="40" fill="#008000"/>
<rect x="85" y="782" width="3" height="13" fill="#008000"/>
<rect x="89" y="747" width="3" height="48" fill="#00ff00"/>
<rect x="92" y="752" width="3" height="43" fill="#008000"/>
<rect x="96" y="780" width="3" height="15" fill="#008000"/>
<rect x="100" y="761" width="3" height="34" fill="#00ff00"/>
<rect x="103" y="743" width="3" height="52" fill="#00ff00"/>
<rect x="107" y="780" width="3" height="15" fill="#008000"/>
<rect x="110" y="764" width="3" height="31" fill="#00ff00"/>
<rect x="114" y="763" width="3" height="32" fill="#00ff00"/>
<rect x="118" y="782" width="3" height="13" fill="#008000"/>
<rect x="121" y="761" width="3" height="34" fill="#00ff00"/>
<rect x="125" y="739" width="3" height="56" fill="#00ff00"/>
<rect x="129" y="779" width="3" height="16" fill="#008000"/>
<rect x="132" y="752" width="3" height="43" fill="#00ff00"/>
<rect x="136" y="743" width="3" height="52" fill="#00ff00"/>
<rect x="139" y="779" width="3" height="16" fill="#008000"/>
<rect x="143" y="751" width="3" height="44" fill="#00ff00"/>
<rect x="147" y="722" width="3" height="73" fill="#00ff00"/>
<rect x="150" y="780" width="3" height="15" fill="#008000"/>
<rect x="154" y="759" width="3" height="36" fill="#00ff00"/>
<rect x="158" y="726" width="3" height="69" fill="#00ff00"/>
<rect x="161" y="777" width="3" height="18" fill="#008000"/>
<rect x="172" y="754" width="3" height="41" fill="#00ff00"/>
<rect x="176" y="725" width="3" height="70" fill="#00ff00"/>
<rect x="179" y="780" width="3" height="15" fill="#008000"/>
<rect x="183" y="762" width="3" height="33" fill="#00ff00"/>
<rect x="187" y="709" width="3" height="86" fill="#00ff00"/>
<rect x="190" y="778" width="3" height="17" fill="#008000"/>
<rect x="194" y="768" width="3" height="27" fill="#00ff00"/>
<rect x="197" y="739" width="3" height="56" fill="#00ff00"/>
<rect x="201" y="759" width="3" height="36" fill="#008000"/>
<rect x="205" y="738" width="3" height="57" fill="#00ff00"/>
<rect x="208" y="733" width="3" height="62" fill="#00ff00"/>
<rect x="212" y="785" width="3" height="10" fill="#008000"/>
<rect x="216" y="776" width="3" height="19" fill="#00ff00"/>
<rect x="219" y="752" width="3" height="43" fill="#00ff00"/>
<rect x="223" y="787" width="3" height="8" fill="#008000"/>
<rect x="226" y="764" width="3" height="31" fill="#00ff00"/>
<rect x="230" y="744" width="3" height="51" fill="#00ff00"/>
<rect x="234" y="779" width="3" height="16" fill="#008000"/>
<rect x="237" y="764" width="3" height="31" fill="#00ff00"/>
<rect x="241" y="739" width="3" height="56" fill="#00ff00"/>
<rect x="245" y="782" width="3" height="13" fill="#008000"/>
<rect x="248" y="748" width="3" height="47" fill="#00ff00"/>
<rect x="252" y="717" width="3" height="78" fill="#00ff00"/>
<rect x="256" y="780" width="3" height="15" fill="#008000"/>
<rect x="259" y="766" width="3" height="29" fill="#00ff00"/>
<rect x="263" y="730" width="3" height="65" fill="#00ff00"/>
<rect x="266" y="782" width="3" height="13" fill="#008000"/>
<rect x="270" y="769" width="3" height="26" fill="#00ff00"/>
<rect x="274" y="729" width="3" height="66" fill="#00ff00"/>
<rect x="277" y="785" width="3" height="10" fill="#008000"/>
<rect x="281" y="765" width="3" height="30" fill="#00ff00"/>
<rect x="285" y="708" width="3" height="87" fill="#00ff00"/>
<rect x="288" y="780" width="3" height="15" fill="#008000"/>
<rect x="292" y="751" width="3" height="44" fill="#00ff00"/>
<rect x="295" y="711" width="3" height="84" fill="#00ff00"/>
<rect x="299" y="783" width="3" height="12" fill="#008000"/>
<rect x="303" y="749" width="3" height="46" fill="#00ff00"/>
<rect x="306" y="703" width="3" height="92" fill="#00ff00"/>
<rect x="310" y="780" width="3" height="15" fill="#008000"/>
<rect x="314" y="752" width="3" height="43" fill="#00ff00"/>
<rect x="317" y="730" width="3" height="65" fill="#00ff00"/>
<rect x="321" y="777" width="3" height="18" fill="#008000"/>
<rect x="324" y="754" width="3" height="41" fill="#00ff00"/>
<rect x="328" y="726" width="3" height="69" fill="#00ff00"/>
<rect x="332" y="776" width="3" height="19" fill="#008000"/>
<rect x="335" y="752" width="3" height="43" fill="#00ff00"/>
<rect x="339" y="727" width="3" height="68" fill="#00ff00"/>
<rect x="343" y="781" width="3" height="14" fill="#008000"/>
<rect x="346" y="750" width="3" height="45" fill="#00ff00"/>
<rect x="350" y="717" width="3" height="78" fill="#00ff00"/>
<rect x="353" y="781" width="3" height="14" fill="#008000"/>
<rect x="357" y="766" width="3" height="29" fill="#00ff00"/>
<rect x="361" y="730" width="3" height="65" fill="#00ff00"/>
<rect x="364" y="786" width="3" height="9" fill="#008000"/>
<rect x="368" y="753" width="3" height="42" fill="#00ff00"/>
<rect x="372" y="728" width="3" height="67" fill="#00ff00"/>
<rect x="375" y="783" width="3" height="12" fill="#008000"/>
<rect x="379" y="765" width="3" height="30" fill="#00ff00"/>
<rect x="382" y="737" width="3" height="58" fill="#00ff00"/>
<rect x="386" y="784" width="3" height="11" fill="#008000"/>
<rect x="390" y="772" width="3" height="23" fill="#00ff00"/>
<rect x="393" y="748" width="3" height="47" fill="#00ff00"/>
<rect x="397" y="787" width="3" height="8" fill="#008000"/>
<rect x="401" y="775" width="3" height="20" fill="#00ff00"/>
<rect x="404" y="751" width="3" height="44" fill="#00ff00"/>
<rect x="408" y="784" width="3" height="11" fill="#008000"/>
<rect x="411" y="760" width="3" height="35" fill="#00ff00"/>
<rect x="415" y="751" width="3" height="44" fill="#00ff00"/>
<rect x="419" y="776" width="3" height="19" fill="#008000"/>
<rect x="422" y="770" width="3" height="25" fill="#00ff00"/>
<rect x="426" y="750" width="3" height="45" fill="#00ff00"/>
<rect x="430" y="787" width="3" height="8" fill="#008000"/>
<rect x="433" y="762" width="3" height="33" fill="#00ff00"/>
<rect x="437" y="726" width="3" height="69" fill="#00ff00"/>
<rect x="440" y="777" width="3" height="18" fill="#008000"/>
<rect x="444" y="750" width="3" height="45" fill="#00ff00"/>
<rect x="448" y="710" width="3" height="85" fill="#00ff00"/>
<rect x="451" y="772" width="3" height="23" fill="#008000"/>
<rect x="455" y="758" width="3" height="37" fill="#00ff00"/>
<rect x="459" y="728" width="3" height="67" fill="#00ff00"/>
<rect x="462" y="774" width="3" height="21" fill="#008000"/>
<rect x="466" y="756" width="3" height="39" fill="#00ff00"/>
<rect x="469" y="693" width="3" height="102" fill="#00ff00"/>
<rect x="473" y="784" width="3" height="11" fill="#008000"/>
<rect x="477" y="769" width="3" height="26" fill="#00ff00"/>
<rect x="480" y="717" width="3" height="78" fill="#00ff00"/>
<rect x="484" y="780" width="3" height="15" fill="#008000"/>
<rect x="488" y="767" width="3" height="28" fill="#00ff00"/>
<rect x="491" y="735" width="3" height="60" fill="#00ff00"/>
<rect x="495" y="782" width="3" height="13" fill="#008000"/>
<rect x="498" y="768" width="3" height="27" fill="#00ff00"/>
<rect x="502" y="737" width="3" height="58" fill="#00ff00"/>
<rect x="506" y="778" width="3" height="17" fill="#008000"/>
<rect x="509" y="768" width="3" height="27" fill="#00ff00"/>
<rect x="513" y="723" width="3" height="72" fill="#00ff00"/>
<rect x="517" y="776" width="3" height="19" fill="#008000"/>
<rect x="520" y="755" width="3" height="40" fill="#00ff00"/>
<rect x="524" y="722" width="3" height="73" fill="#00ff00"/>
<rect x="527" y="772" width="3" height="23" fill="#008000"/>
<rect x="531" y="774" width="3" height="21" fill="#008000"/>
<rect x="535" y="756" width="3" height="39" fill="#00ff00"/>
<rect x="538" y="786" width="3" height="9" fill="#008000"/>
<rect x="542" y="775" width="3" height="20" fill="#00ff00"/>
<rect x="546" y="753" width="3" height="42" fill="#00ff00"/>
<rect x="549" y="780" width="3" height="15" fill="#008000"/>
<rect x="553" y="762" width="3" height="33" fill="#00ff00"/>
<rect x="557" y="766" width="3" height="29" fill="#008000"/>
<rect x="560" y="788" width="3" height="7" fill="#008000"/>
<rect x="564" y="793" width="3" height="2" fill="#008000"/>
<rect x="567" y="783" width="3" height="12" fill="#00ff00"/>
<rect x="571" y="768" width="3" height="27" fill="#00ff00"/>
<rect x="575" y="787" width="3" height="8" fill="#008000"/>
<rect x="578" y="768" width="3" height="27" fill="#00ff00"/>
<rect x="582" y="745" width="3" height="50" fill="#00ff00"/>
<rect x="586" y="778" width="3" height="17" fill="#008000"/>
<rect x="589" y="757" width="3" height="38" fill="#00ff00"/>
<rect x="593" y="627" width="3" height="168" fill="#00ff00"/>
<rect x="596" y="744" width="3" height="51" fill="#008000"/>
<rect x="600" y="776" width="3" height="19" fill="#008000"/>
<rect x="604" y="753" width="3" height="42" fill="#00ff00"/>
<rect x="607" y="786" width="3" height="9" fill="#008000"/>
<rect x="611" y="793" width="3" height="2" fill="#008000"/>
<rect x="615" y="787" width="3" height="8" fill="#00ff00"/>
<rect x="618" y="744" width="3" height="51" fill="#00ff00"/>
<rect x="622" y="760" width="3" height="35" fill="#008000"/>
<rect x="625" y="713" width="3" height="82" fill="#00ff00"/>
<rect x="629" y="762" width="3" height="33" fill="#008000"/>
<rect x="633" y="769" width="3" height="26" fill="#008000"/>
<rect x="636" y="751" width="3" height="44" fill="#00ff00"/>
<rect x="640" y="733" width="3" height="62" fill="#00ff00"/>
<rect x="644" y="769" width="3" height="26" fill="#008000"/>
<rect x="647" y="659" width="3" height="136" fill="#00ff00"/>
<rect x="651" y="770" width="3" height="25" fill="#008000"/>
<rect x="654" y="776" width="3" height="19" fill="#008000"/>
<rect x="658" y="761" width="3" height="34" fill="#00ff00"/>
<rect x="662" y="727" width="3" height="68" fill="#00ff00"/>
<rect x="665" y="782" width="3" height="13" fill="#008000"/>
<rect x="669" y="756" width="3" height="39" fill="#00ff00"/>
<rect x="673" y="706" width="3" height="89" fill="#00ff00"/>
<rect x="676" y="769" width="3" height="26" fill="#008000"/>
<rect x="680" y="753" width="3" height="42" fill="#00ff00"/>
<rect x="683" y="705" width="3" height="90" fill="#00ff00"/>
<rect x="687" y="769" width="3" height="26" fill="#008000"/>
<rect x="691" y="763" width="3" height="32" fill="#00ff00"/>
<rect x="694" y="725" width="3" height="70" fill="#00ff00"/>
<rect x="698" y="780" width="3" height="15" fill="#008000"/>
<rect x="702" y="753" width="3" height="42" fill="#00ff00"/>
<rect x="705" y="718" width="3" height="77" fill="#00ff00"/>
<rect x="709" y="786" width="3" height="9" fill="#008000"/>
<rect x="712" y="759" width="3" height="36" fill="#00ff00"/>
<rect x="716" y="745" width="3" height="50" fill="#00ff00"/>
<rect x="720" y="781" width="3" height="14" fill="#008000"/>
<rect x="723" y="766" width="3" height="29" fill="#00ff00"/>
<rect x="727" y="752" width="3" height="43" fill="#00ff00"/>
<rect x="731" y="785" width="3" height="10" fill="#008000"/>
<rect x="734" y="763" width="3" height="32" fill="#00ff00"/>
<rect x="738" y="741" width="3" height="54" fill="#00ff00"/>
<rect x="741" y="782" width="3" height="13" fill="#008000"/>
<rect x="745" y="767" width="3" height="28" fill="#00ff00"/>
<rect x="749" y="750" width="3" height="45" fill="#00ff00"/>
<rect x="752" y="780" width="3" height="15" fill="#008000"/>
<rect x="756" y="748" width="3" height="47" fill="#00ff00"/>
<rect x="760" y="724" width="3" height="71" fill="#00ff00"/>
<rect x="763" y="784" width="3" height="11" fill="#008000"/>
<rect x="767" y="747" width="3" height="48" fill="#00ff00"/>
<rect x="770" y="726" width="3" height="69" fill="#00ff00"/>
<rect x="774" y="780" width="3" height="15" fill="#008000"/>
<rect x="778" y="744" width="3" height="51" fill="#00ff00"/>
<rect x="781" y="712" width="3" height="83" fill="#00ff00"/>
<rect x="785" y="779" width="3" height="16" fill="#008000"/>
<rect x="789" y="734" width="3" height="61" fill="#00ff00"/>
<rect x="792" y="658" width="3" height="137" fill="#00ff00"/>
<rect x="796" y="759" width="3" height="36" fill="#008000"/>
<rect x="799" y="728" width="3" height="67" fill="#00ff00"/>
<rect x="803" y="666" width="3" height="129" fill="#00ff00"/>
<rect x="807" y="764" width="3" height="31" fill="#008000"/>
<rect x="810" y="743" width="3" height="52" fill="#00ff00"/>
<rect x="814" y="690" width="3" height="105" fill="#00ff00"/>
<rect x="818" y="772" width="3" height="23" fill="#008000"/>
<rect x="821" y="715" width="3" height="80" fill="#00ff00"/>
<rect x="825" y="647" width="3" height="148" fill="#00ff00"/>
<rect x="828" y="762" width="3" height="33" fill="#008000"/>
<rect x="832" y="740" width="3" height="55" fill="#00ff00"/>
<rect x="836" y="630" width="3" height="165" fill="#00ff00"/>
<rect x="839" y="767" width="3" height="28" fill="#008000"/>
<rect x="843" y="710" width="3" height="85" fill="#00ff00"/>
<rect x="847" y="626" width="3" height="169" fill="#00ff00"/>
<rect x="850" y="753" width="3" height="42" fill="#008000"/>
<rect x="854" y="736" width="3" height="59" fill="#00ff00"/>
<rect x="858" y="717" width="3" height="78" fill="#00ff00"/>
<rect x="861" y="784" width="3" height="11" fill="#008000"/>
<rect x="865" y="732" width="3" height="63" fill="#00ff00"/>
<rect x="868" y="704" width="3" height="91" fill="#00ff00"/>
<rect x="872" y="776" width="3" height="19" fill="#008000"/>
<rect x="876" y="740" width="3" height="55" fill="#00ff00"/>
<rect x="879" y="708" width="3" height="87" fill="#00ff00"/>
<rect x="883" y="770" width="3" height="25" fill="#008000"/>
<rect x="887" y="741" width="3" height="54" fill="#00ff00"/>
<rect x="890" y="722" width="3" height="73" fill="#00ff00"/>
<rect x="894" y="779" width="3" height="16" fill="#008000"/>
<rect x="897" y="760" width="3" height="35" fill="#00ff00"/>
<rect x="901" y="744" width="3" height="51" fill="#00ff00"/>
<rect x="905" y="780" width="3" height="15" fill="#008000"/>
<rect x="908" y="758" width="3" height="37" fill="#00ff00"/>
<rect x="912" y="754" width="3" height="41" fill="#00ff00"/>
<rect x="916" y="780" width="3" height="15" fill="#008000"/>
<rect x="919" y="765" width="3" height="30" fill="#00ff00"/>
<rect x="923" y="736" width="3" height="59" fill="#00ff00"/>
<rect x="926" y="787" width="3" height="8" fill="#008000"/>
<rect x="930" y="757" width="3" height="38" fill="#00ff00"/>
<rect x="934" y="736" width="3" height="59" fill="#00ff00"/>
<rect x="937" y="780" width="3" height="15" fill="#008000"/>
<rect x="941" y="770" width="3" height="25" fill="#00ff00"/>
<rect x="945" y="719" width="3" height="76" fill="#00ff00"/>
<rect x="948" y="776" width="3" height="19" fill="#008000"/>
<rect x="952" y="739" width="3" height="56" fill="#00ff00"/>
<rect x="955" y="687" width="3" height="108" fill="#00ff00"/>
<rect x="959" y="777" width="3" height="18" fill="#008000"/>
<rect x="963" y="754" width="3" height="41" fill="#00ff00"/>
<rect x="966" y="772" width="3" height="23" fill="#008000"/>
</g>
<g shape-rendering="crispEdges">
<line x1="11.077" y1="621.5" x2="966" y2="621.5" stroke="#303030" stroke-width="1" stroke-dasharray="1 2.9 1 2.9 1 2.123"/>
<rect x="9" y="621" width="7" height="1" fill="#000"/>
<rect x="1112" y="621" width="6" height="1" fill="#000"/>
<line x1="22" y1="632.5" x2="968" y2="632.5" stroke="#404040" stroke-width="1" stroke-dasharray="1 9.923"/>
<rect x="9" y="632" width="4" height="1" fill="#505050"/>
<rect x="1115" y="632" width="3" height="1" fill="#202020"/>
<line x1="22" y1="644.5" x2="968" y2="644.5" stroke="#404040" stroke-width="1" stroke-dasharray="1 9.923"/>
<rect x="9" y="644" width="4" height="1" fill="#505050"/>
<rect x="1115" y="644" width="3" height="1" fill="#202020"/>
<line x1="22" y1="655.5" x2="968" y2="655.5" stroke="#404040" stroke-width="1" stroke-dasharray="1 9.923"/>
<rect x="9" y="655" width="4" height="1" fill="#505050"/>
<rect x="1115" y="655" width="3" height="1" fill="#202020"/>
<line x1="22" y1="667.5" x2="968" y2="667.5" stroke="#404040" stroke-width="1" stroke-dasharray="1 9.923"/>
<rect x="9" y="667" width="4" height="1" fill="#505050"/>
<rect x="1115" y="667" width="3" height="1" fill="#202020"/>
<line x1="11.077" y1="678.5" x2="966" y2="678.5" stroke="#303030" stroke-width="1" stroke-dasharray="1 2.9 1 2.9 1 2.123"/>
<rect x="9" y="678" width="7" height="1" fill="#000"/>
<rect x="1112" y="678" width="6" height="1" fill="#000"/>
<line x1="22" y1="690.5" x2="968" y2="690.5" stroke="#404040" stroke-width="1" stroke-dasharray="1 9.923"/>
<rect x="9" y="690" width="4" height="1" fill="#505050"/>
<rect x="1115" y="690" width="3" height="1" fill="#202020"/>
<line x1="22" y1="701.5" x2="968" y2="701.5" stroke="#404040" stroke-width="1" stroke-dasharray="1 9.923"/>
<rect x="9" y="701" width="4" height="1" fill="#505050"/>
<rect x="1115" y="701" width="3" height="1" fill="#202020"/>
<line x1="22" y1="713.5" x2="968" y2="713.5" stroke="#404040" stroke-width="1" stroke-dasharray="1 9.923"/>
<rect x="9" y="713" width="4" height="1" fill="#505050"/>
<rect x="1115" y="713" width="3" height="1" fill="#202020"/>
<line x1="22" y1="725.5" x2="968" y2="725.5" stroke="#404040" stroke-width="1" stroke-dasharray="1 9.923"/>
<rect x="9" y="725" width="4" height="1" fill="#505050"/>
<rect x="1115" y="725" width="3" height="1" fill="#202020"/>
<line x1="11.077" y1="736.5" x2="966" y2="736.5" stroke="#303030" stroke-width="1" stroke-dasharray="1 2.9 1 2.9 1 2.123"/>
<rect x="9" y="736" width="7" height="1" fill="#000"/>
<rect x="1112" y="736" width="6" height="1" fill="#000"/>
<line x1="22" y1="748.5" x2="968" y2="748.5" stroke="#404040" stroke-width="1" stroke-dasharray="1 9.923"/>
<rect x="9" y="748" width="4" height="1" fill="#505050"/>
<rect x="1115" y="748" width="3" height="1" fill="#202020"/>
<line x1="22" y1="760.5" x2="968" y2="760.5" stroke="#404040" stroke-width="1" stroke-dasharray="1 9.923"/>
<rect x="9" y="760" width="4" height="1" fill="#505050"/>
<rect x="1115" y="760" width="3" height="1" fill="#202020"/>
<line x1="22" y1="771.5" x2="968" y2="771.5" stroke="#404040" stroke-width="1" stroke-dasharray="1 9.923"/>
<rect x="9" y="771" width="4" height="1" fill="#505050"/>
<rect x="1115" y="771" width="3" height="1" fill="#202020"/>
<line x1="22" y1="783.5" x2="968" y2="783.5" stroke="#404040" stroke-width="1" stroke-dasharray="1 9.923"/>
<rect x="9" y="783" width="4" height="1" fill="#505050"/>
<rect x="1115" y="783" width="3" height="1" fill="#202020"/>
<rect x="9" y="795" width="7" height="1" fill="#000"/>
<rect x="1112" y="795" width="6" height="1" fill="#000"/>
</g>
<text x="1135.5" y="133" font-family="Liberation Sans, Arial, sans-serif" font-size="13" fill="#202020" text-anchor="start" letter-spacing="-0.2">35</text>
<text x="1135.5" y="372.5" font-family="Liberation Sans, Arial, sans-serif" font-size="13" fill="#202020" text-anchor="start" letter-spacing="-0.2">33</text>
<text x="1135.5" y="491.5" font-family="Liberation Sans, Arial, sans-serif" font-size="13" fill="#202020" text-anchor="start" letter-spacing="-0.2">32</text>
<text x="1135.5" y="610" font-family="Liberation Sans, Arial, sans-serif" font-size="13" fill="#202020" text-anchor="start" letter-spacing="-0.2">31</text>
<text x="1173" y="626" font-family="Liberation Sans, Arial, sans-serif" font-size="13" fill="#202020" text-anchor="end" letter-spacing="-0.2">7500</text>
<text x="1173" y="683.5" font-family="Liberation Sans, Arial, sans-serif" font-size="13" fill="#202020" text-anchor="end" letter-spacing="-0.2">5000</text>
<text x="1173" y="741.5" font-family="Liberation Sans, Arial, sans-serif" font-size="13" fill="#202020" text-anchor="end" letter-spacing="-0.2">2500</text>
<text x="1173" y="800" font-family="Liberation Sans, Arial, sans-serif" font-size="13" fill="#202020" text-anchor="end" letter-spacing="-0.2">0</text>
<rect x="1119.5" y="1.5" width="57" height="13" fill="#ff0000" stroke="#000" stroke-width="1" shape-rendering="crispEdges"/>
<text x="1173" y="13" font-family="Liberation Sans, Arial, sans-serif" font-size="13" fill="#ffffff" text-anchor="end" letter-spacing="-0.2">36.013</text>
<rect x="1119.5" y="102.5" width="57" height="14" fill="#000000" stroke="#000" stroke-width="1" shape-rendering="crispEdges"/>
<text x="1173" y="115" font-family="Liberation Sans, Arial, sans-serif" font-size="13" fill="#ffffff" text-anchor="end" letter-spacing="-0.2">35.153</text>
<polygon points="1120.5,112.5 1125.5,112.5 1123,107" fill="#fff"/>
<rect x="1119.5" y="138.5" width="57" height="14" fill="#008000" stroke="#000" stroke-width="1" shape-rendering="crispEdges"/>
<text x="1173" y="151" font-family="Liberation Sans, Arial, sans-serif" font-size="13" fill="#ffffff" text-anchor="end" letter-spacing="-0.2">34.856</text>
<rect x="1119.5" y="132.5" width="57" height="14" fill="#0000e0" stroke="#000" stroke-width="1" shape-rendering="crispEdges"/>
<text x="1173" y="145" font-family="Liberation Sans, Arial, sans-serif" font-size="13" fill="#ffffff" text-anchor="end" letter-spacing="-0.2">34.906</text>
<rect x="1119.5" y="199.5" width="57" height="14" fill="#0000e0" stroke="#000" stroke-width="1" shape-rendering="crispEdges"/>
<text x="1173" y="212" font-family="Liberation Sans, Arial, sans-serif" font-size="13" fill="#ffffff" text-anchor="end" letter-spacing="-0.2">34.347</text>
<rect x="1119.5" y="207.5" width="57" height="14" fill="#00ff00" stroke="#000" stroke-width="1" shape-rendering="crispEdges"/>
<text x="1173" y="220" font-family="Liberation Sans, Arial, sans-serif" font-size="13" fill="#ffffff" text-anchor="end" letter-spacing="-0.2">34.281</text>
<rect x="1119.5" y="240.5" width="57" height="14" fill="#0000e0" stroke="#000" stroke-width="1" shape-rendering="crispEdges"/>
<text x="1173" y="253" font-family="Liberation Sans, Arial, sans-serif" font-size="13" fill="#ffffff" text-anchor="end" letter-spacing="-0.2">34.000</text>
<rect x="1119.5" y="298.5" width="57" height="14" fill="#f08048" stroke="#000" stroke-width="1" shape-rendering="crispEdges"/>
<text x="1173" y="311" font-family="Liberation Sans, Arial, sans-serif" font-size="13" fill="#ffffff" text-anchor="end" letter-spacing="-0.2">33.508</text>
<rect x="1119.5" y="318.5" width="57" height="14" fill="#0000e0" stroke="#000" stroke-width="1" shape-rendering="crispEdges"/>
<text x="1173" y="331" font-family="Liberation Sans, Arial, sans-serif" font-size="13" fill="#ffffff" text-anchor="end" letter-spacing="-0.2">33.348</text>
<rect x="1119.5" y="346.5" width="57" height="14" fill="#00ff00" stroke="#000" stroke-width="1" shape-rendering="crispEdges"/>
<text x="1173" y="359" font-family="Liberation Sans, Arial, sans-serif" font-size="13" fill="#ffffff" text-anchor="end" letter-spacing="-0.2">33.116</text>
<rect x="1119.5" y="422.5" width="57" height="14" fill="#008000" stroke="#000" stroke-width="1" shape-rendering="crispEdges"/>
<text x="1173" y="435" font-family="Liberation Sans, Arial, sans-serif" font-size="13" fill="#ffffff" text-anchor="end" letter-spacing="-0.2">32.463</text>
<rect x="1119.5" y="413.5" width="57" height="14" fill="#0000e0" stroke="#000" stroke-width="1" shape-rendering="crispEdges"/>
<text x="1173" y="426" font-family="Liberation Sans, Arial, sans-serif" font-size="13" fill="#ffffff" text-anchor="end" letter-spacing="-0.2">32.550</text>
<rect x="1119.5" y="505.5" width="57" height="14" fill="#0000e0" stroke="#000" stroke-width="1" shape-rendering="crispEdges"/>
<text x="1173" y="518" font-family="Liberation Sans, Arial, sans-serif" font-size="13" fill="#ffffff" text-anchor="end" letter-spacing="-0.2">31.774</text>
<rect x="1119.5" y="540.5" width="57" height="14" fill="#0000e0" stroke="#000" stroke-width="1" shape-rendering="crispEdges"/>
<text x="1173" y="553" font-family="Liberation Sans, Arial, sans-serif" font-size="13" fill="#ffffff" text-anchor="end" letter-spacing="-0.2">31.480</text>
<rect x="1119.5" y="765.5" width="57" height="14" fill="#00ff00" stroke="#000" stroke-width="1" shape-rendering="crispEdges"/>
<text x="1173" y="778" font-family="Liberation Sans, Arial, sans-serif" font-size="13" fill="#000000" text-anchor="end" letter-spacing="-0.2">971</text>
<text x="1096" y="19" font-family="Liberation Sans, Arial, sans-serif" font-size="13" fill="#202020" text-anchor="end" letter-spacing="-0.2">Powered by XTick</text>
<rect x="11" y="615" width="44" height="13" fill="#fff"/>
<rect x="13" y="627" width="43" height="2" fill="#707070" shape-rendering="crispEdges"/>
<rect x="54" y="616" width="2" height="13" fill="#707070" shape-rendering="crispEdges"/>
<text x="11.5" y="625" font-family="Liberation Sans, Arial, sans-serif" font-size="12" fill="#202020">Volume</text>
<g shape-rendering="crispEdges">
<rect x="11" y="808" width="1" height="16" fill="#303030"/>
<rect x="54" y="808" width="1" height="16" fill="#303030"/>
<rect x="98" y="808" width="1" height="16" fill="#303030"/>
<rect x="142" y="808" width="1" height="16" fill="#303030"/>
<rect x="182" y="808" width="1" height="16" fill="#303030"/>
<rect x="225" y="808" width="1" height="16" fill="#303030"/>
<rect x="269" y="808" width="1" height="16" fill="#303030"/>
<rect x="312" y="808" width="1" height="16" fill="#303030"/>
<rect x="356" y="808" width="1" height="16" fill="#303030"/>
<rect x="399" y="808" width="1" height="16" fill="#303030"/>
<rect x="443" y="808" width="1" height="16" fill="#303030"/>
<rect x="486" y="808" width="1" height="16" fill="#303030"/>
<rect x="529" y="808" width="1" height="16" fill="#303030"/>
<rect x="577" y="808" width="1" height="16" fill="#303030"/>
<rect x="624" y="808" width="1" height="16" fill="#303030"/>
<rect x="667" y="808" width="1" height="16" fill="#303030"/>
<rect x="711" y="808" width="1" height="16" fill="#303030"/>
<rect x="755" y="808" width="1" height="16" fill="#303030"/>
<rect x="798" y="808" width="1" height="16" fill="#303030"/>
<rect x="841" y="808" width="1" height="16" fill="#303030"/>
<rect x="885" y="808" width="1" height="16" fill="#303030"/>
<rect x="940" y="808" width="1" height="16" fill="#303030"/>
</g>
<text x="13.7" y="805.5" font-family="Liberation Sans, Arial, sans-serif" font-size="13" fill="#202020" letter-spacing="-0.3">окт 15</text>
<text x="12.7" y="822.5" font-family="Liberation Sans, Arial, sans-serif" font-size="13" fill="#202020" letter-spacing="-0.3">8:00</text>
<text x="57.3" y="805.5" font-family="Liberation Sans, Arial, sans-serif" font-size="13" fill="#202020" letter-spacing="-0.3">окт 21</text>
<text x="56.3" y="822.5" font-family="Liberation Sans, Arial, sans-serif" font-size="13" fill="#202020" letter-spacing="-0.3">8:00</text>
<text x="100.6" y="805.5" font-family="Liberation Sans, Arial, sans-serif" font-size="13" fill="#202020" letter-spacing="-0.3">окт 25</text>
<text x="99.6" y="822.5" font-family="Liberation Sans, Arial, sans-serif" font-size="13" fill="#202020" letter-spacing="-0.3">8:00</text>
<text x="144.6" y="805.5" font-family="Liberation Sans, Arial, sans-serif" font-size="13" fill="#202020" letter-spacing="-0.3">окт 31</text>
<text x="143.6" y="822.5" font-family="Liberation Sans, Arial, sans-serif" font-size="13" fill="#202020" letter-spacing="-0.3">8:00</text>
<text x="184.5" y="805.5" font-family="Liberation Sans, Arial, sans-serif" font-size="13" fill="#202020" letter-spacing="-0.3">ноя 06</text>
<text x="183.5" y="822.5" font-family="Liberation Sans, Arial, sans-serif" font-size="13" fill="#202020" letter-spacing="-0.3">8:00</text>
<text x="228.2" y="805.5" font-family="Liberation Sans, Arial, sans-serif" font-size="13" fill="#202020" letter-spacing="-0.3">ноя 12</text>
<text x="227.2" y="822.5" font-family="Liberation Sans, Arial, sans-serif" font-size="13" fill="#202020" letter-spacing="-0.3">8:00</text>
<text x="271.5" y="805.5" font-family="Liberation Sans, Arial, sans-serif" font-size="13" fill="#202020" letter-spacing="-0.3">ноя 18</text>
<text x="270.5" y="822.5" font-family="Liberation Sans, Arial, sans-serif" font-size="13" fill="#202020" letter-spacing="-0.3">8:00</text>
<text x="314.9" y="805.5" font-family="Liberation Sans, Arial, sans-serif" font-size="13" fill="#202020" letter-spacing="-0.3">ноя 22</text>
<text x="313.9" y="822.5" font-family="Liberation Sans, Arial, sans-serif" font-size="13" fill="#202020" letter-spacing="-0.3">8:00</text>
<text x="358.5" y="805.5" font-family="Liberation Sans, Arial, sans-serif" font-size="13" fill="#202020" letter-spacing="-0.3">ноя 28</text>
<text x="357.5" y="822.5" font-family="Liberation Sans, Arial, sans-serif" font-size="13" fill="#202020" letter-spacing="-0.3">8:00</text>
<text x="402.1" y="805.5" font-family="Liberation Sans, Arial, sans-serif" font-size="13" fill="#202020" letter-spacing="-0.3">дек 04</text>
<text x="401.1" y="822.5" font-family="Liberation Sans, Arial, sans-serif" font-size="13" fill="#202020" letter-spacing="-0.3">8:00</text>
<text x="445.8" y="805.5" font-family="Liberation Sans, Arial, sans-serif" font-size="13" fill="#202020" letter-spacing="-0.3">дек 10</text>
<text x="444.8" y="822.5" font-family="Liberation Sans, Arial, sans-serif" font-size="13" fill="#202020" letter-spacing="-0.3">8:00</text>
<text x="489.1" y="805.5" font-family="Liberation Sans, Arial, sans-serif" font-size="13" fill="#202020" letter-spacing="-0.3">дек 16</text>
<text x="488.1" y="822.5" font-family="Liberation Sans, Arial, sans-serif" font-size="13" fill="#202020" letter-spacing="-0.3">8:00</text>
<text x="532.4" y="805.5" font-family="Liberation Sans, Arial, sans-serif" font-size="13" fill="#202020" letter-spacing="-0.3">дек 20</text>
<text x="531.4" y="822.5" font-family="Liberation Sans, Arial, sans-serif" font-size="13" fill="#202020" letter-spacing="-0.3">8:00</text>
<text x="579.8" y="805.5" font-family="Liberation Sans, Arial, sans-serif" font-size="13" fill="#202020" letter-spacing="-0.3">дек 27</text>
<text x="578.8" y="822.5" font-family="Liberation Sans, Arial, sans-serif" font-size="13" fill="#202020" letter-spacing="-0.3">8:00</text>
<text x="626.8" y="805.5" font-family="Liberation Sans, Arial, sans-serif" font-size="13" fill="#202020" letter-spacing="-0.3">янв 03</text>
<text x="625.8" y="822.5" font-family="Liberation Sans, Arial, sans-serif" font-size="13" fill="#202020" letter-spacing="-0.3">8:00</text>
<text x="670.1" y="805.5" font-family="Liberation Sans, Arial, sans-serif" font-size="13" fill="#202020" letter-spacing="-0.3">янв 09</text>
<text x="669.1" y="822.5" font-family="Liberation Sans, Arial, sans-serif" font-size="13" fill="#202020" letter-spacing="-0.3">8:00</text>
<text x="714.1" y="805.5" font-family="Liberation Sans, Arial, sans-serif" font-size="13" fill="#202020" letter-spacing="-0.3">янв 15</text>
<text x="713.1" y="822.5" font-family="Liberation Sans, Arial, sans-serif" font-size="13" fill="#202020" letter-spacing="-0.3">8:00</text>
<text x="757.9" y="805.5" font-family="Liberation Sans, Arial, sans-serif" font-size="13" fill="#202020" letter-spacing="-0.3">янв 21</text>
<text x="756.9" y="822.5" font-family="Liberation Sans, Arial, sans-serif" font-size="13" fill="#202020" letter-spacing="-0.3">8:00</text>
<text x="800.7" y="805.5" font-family="Liberation Sans, Arial, sans-serif" font-size="13" fill="#202020" letter-spacing="-0.3">янв 27</text>
<text x="799.7" y="822.5" font-family="Liberation Sans, Arial, sans-serif" font-size="13" fill="#202020" letter-spacing="-0.3">8:00</text>
<text x="844.0" y="805.5" font-family="Liberation Sans, Arial, sans-serif" font-size="13" fill="#202020" letter-spacing="-0.3">янв 31</text>
<text x="843.0" y="822.5" font-family="Liberation Sans, Arial, sans-serif" font-size="13" fill="#202020" letter-spacing="-0.3">8:00</text>
<text x="888.0" y="805.5" font-family="Liberation Sans, Arial, sans-serif" font-size="13" fill="#202020" letter-spacing="-0.3">фев 06</text>
<text x="887.0" y="822.5" font-family="Liberation Sans, Arial, sans-serif" font-size="13" fill="#202020" letter-spacing="-0.3">8:00</text>
<text x="942.8" y="805.5" font-family="Liberation Sans, Arial, sans-serif" font-size="13" fill="#202020" letter-spacing="-0.3">фев 13</text>
<text x="941.8" y="822.5" font-family="Liberation Sans, Arial, sans-serif" font-size="13" fill="#202020" letter-spacing="-0.3">8:00</text>
<rect x="1117.5" y="809.5" width="19" height="13" fill="#fff" stroke="#303030" stroke-width="1.1"/>
<rect x="1120.8" y="813.6" width="6.8" height="5.8" rx="2.9" fill="none" stroke="#4a4a4a" stroke-width="1.7"/>
<rect x="1126.6" y="813.6" width="6.8" height="5.8" rx="2.9" fill="none" stroke="#4a4a4a" stroke-width="1.7"/>
<rect x="1123.5" y="815.6" width="7" height="1.8" fill="#a0a0a0"/>
<rect x="1147" y="811" width="13.8" height="12.5" fill="#8a9292"/>
<rect x="1146" y="810" width="13.5" height="12.3" fill="#cc0000"/>
<rect x="1147.2" y="814.8" width="4.5" height="2.5" fill="#fff"/>
<polygon points="1150.5,811.8 1155,816 1150.5,820.2" fill="#fff"/>
<rect x="1156.4" y="813" width="1.8" height="6.3" fill="#fff"/>
<rect x="0" y="833" width="1182" height="28" fill="#404040"/>
<text x="10" y="851" font-family="DejaVu Sans, Verdana, sans-serif" font-size="12.5" fill="#e8e8e8" letter-spacing="0.36">Элитный Трейдер,</text>
<text x="142.4" y="851" font-family="DejaVu Sans, Verdana, sans-serif" font-size="12.5" fill="#e8e8e8" letter-spacing="0.76">ELITETRADER.RU</text>
<defs><linearGradient id="g2" x1="0" y1="0" x2="0.6" y2="1"><stop offset="0" stop-color="#a8d040"/><stop offset="0.45" stop-color="#f5b020"/><stop offset="1" stop-color="#f05a28"/></linearGradient><linearGradient id="ga" x1="0" y1="0" x2="0" y2="1"><stop offset="0" stop-color="#a6e05a"/><stop offset="1" stop-color="#2e8a10"/></linearGradient><linearGradient id="gb" x1="0" y1="0" x2="1" y2="1"><stop offset="0" stop-color="#ffb020"/><stop offset="1" stop-color="#e03010"/></linearGradient></defs>
<path d="M1066.5,837 L1075,845.5 L1070.5,845.5 L1070.5,854 L1064,854 L1064,845.5 L1058,845.5 Z" fill="url(#ga)"/>
<rect x="1058" y="849" width="8" height="5" fill="url(#gb)"/>
<circle cx="1109.5" cy="846.5" r="7.6" fill="url(#g2)"/>
<text x="1078.5" y="851.5" font-family="Liberation Sans, Arial, sans-serif" font-weight="bold" font-size="15.5" fill="#ffffff" letter-spacing="-0.4">clip</text>
<text x="1109.6" y="851.5" font-family="Liberation Sans, Arial, sans-serif" font-weight="bold" font-size="13.5" fill="#ffffff" text-anchor="middle">2</text>
<text x="1117" y="851.5" font-family="Liberation Sans, Arial, sans-serif" font-weight="bold" font-size="15.5" fill="#ffffff" letter-spacing="-0.4">net</text>
<text x="1138" y="851.5" font-family="Liberation Sans, Arial, sans-serif" font-weight="bold" font-size="15.5" fill="#a0a4a4" letter-spacing="-0.4">.com</text>
</svg>
</body></html>
